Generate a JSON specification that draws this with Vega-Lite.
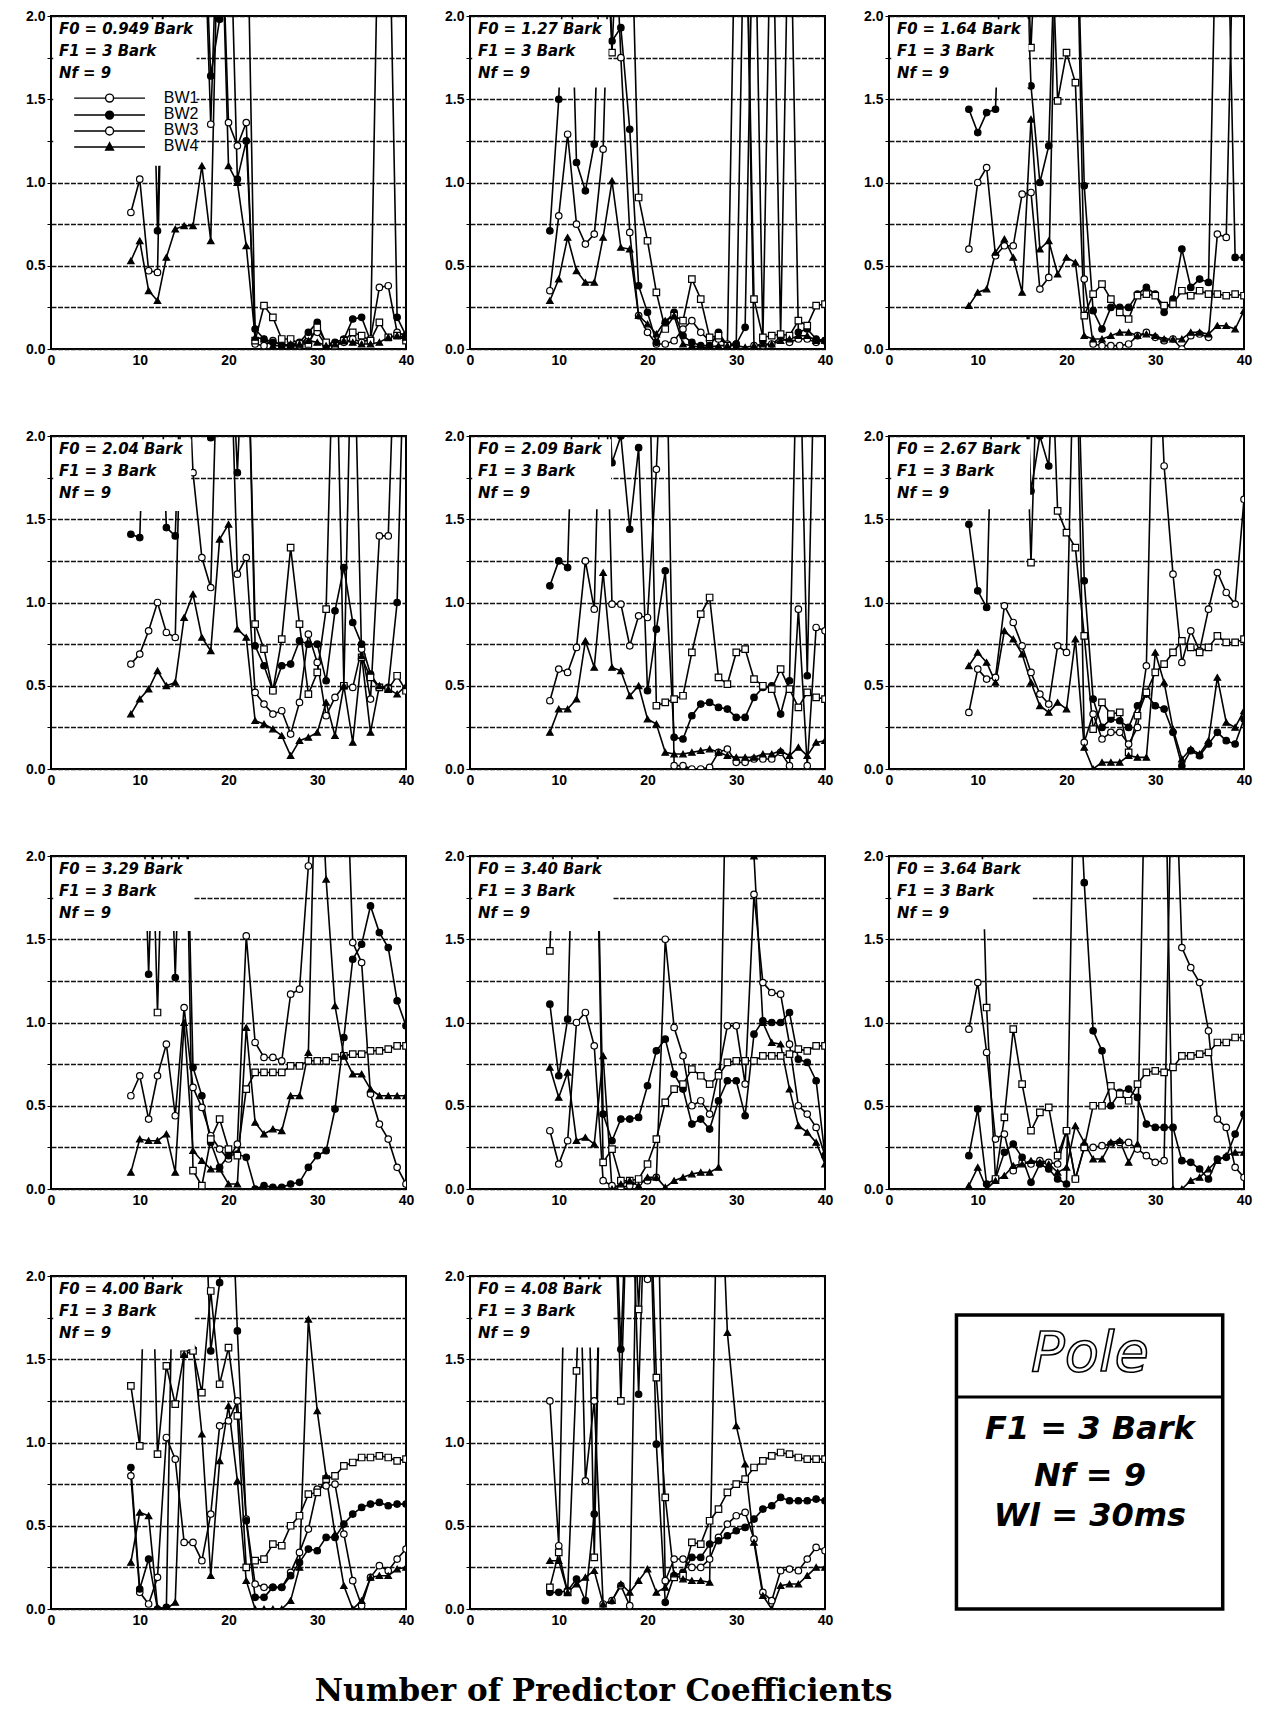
{
"$schema":"https://vega.github.io/schema/vega-lite/v6.json",
"background":"white",
"padding":{"left":24,"top":8,"right":4,"bottom":4},
"title":{"text":"Number of Predictor Coefficients","orient":"bottom","anchor":"middle","font":"DejaVu Serif","fontSize":31,"fontWeight":"bold","color":"black","offset":49,"dx":-35},
"columns":3,
"spacing":{"row":60,"column":28},
"data":{"values":[
{"p":1,"s":"BW1","x":9,"y":0.82},{"p":1,"s":"BW1","x":10,"y":1.02},{"p":1,"s":"BW1","x":11,"y":0.47},{"p":1,"s":"BW1","x":12,"y":0.46},{"p":1,"s":"BW1","x":13,"y":3},{"p":1,"s":"BW1","x":17,"y":3},{"p":1,"s":"BW1","x":18,"y":1.35},{"p":1,"s":"BW1","x":19,"y":3},{"p":1,"s":"BW1","x":20,"y":1.36},{"p":1,"s":"BW1","x":21,"y":1.22},{"p":1,"s":"BW1","x":22,"y":1.36},{"p":1,"s":"BW1","x":23,"y":0.03},{"p":1,"s":"BW1","x":24,"y":0.02},{"p":1,"s":"BW1","x":25,"y":0.05},{"p":1,"s":"BW1","x":26,"y":0.02},{"p":1,"s":"BW1","x":27,"y":0.02},{"p":1,"s":"BW1","x":28,"y":0.02},{"p":1,"s":"BW1","x":29,"y":0.08},{"p":1,"s":"BW1","x":30,"y":0.1},{"p":1,"s":"BW1","x":31,"y":0.02},{"p":1,"s":"BW1","x":32,"y":0.02},{"p":1,"s":"BW1","x":33,"y":0.04},{"p":1,"s":"BW1","x":34,"y":0.06},{"p":1,"s":"BW1","x":35,"y":0.04},{"p":1,"s":"BW1","x":36,"y":0.06},{"p":1,"s":"BW1","x":37,"y":0.37},{"p":1,"s":"BW1","x":38,"y":0.38},{"p":1,"s":"BW1","x":39,"y":0.1},{"p":1,"s":"BW1","x":40,"y":0.08},
{"p":1,"s":"BW2","x":11,"y":3},{"p":1,"s":"BW2","x":12,"y":0.71},{"p":1,"s":"BW2","x":13,"y":3},{"p":1,"s":"BW2","x":17,"y":3},{"p":1,"s":"BW2","x":18,"y":1.64},{"p":1,"s":"BW2","x":19,"y":1.98},{"p":1,"s":"BW2","x":20,"y":3},{"p":1,"s":"BW2","x":21,"y":1.02},{"p":1,"s":"BW2","x":22,"y":1.25},{"p":1,"s":"BW2","x":23,"y":0.12},{"p":1,"s":"BW2","x":24,"y":0.06},{"p":1,"s":"BW2","x":25,"y":0.04},{"p":1,"s":"BW2","x":26,"y":0.03},{"p":1,"s":"BW2","x":27,"y":0.02},{"p":1,"s":"BW2","x":28,"y":0.04},{"p":1,"s":"BW2","x":29,"y":0.1},{"p":1,"s":"BW2","x":30,"y":0.16},{"p":1,"s":"BW2","x":31,"y":0.03},{"p":1,"s":"BW2","x":32,"y":0.04},{"p":1,"s":"BW2","x":33,"y":0.06},{"p":1,"s":"BW2","x":34,"y":0.18},{"p":1,"s":"BW2","x":35,"y":0.19},{"p":1,"s":"BW2","x":36,"y":0.05},{"p":1,"s":"BW2","x":37,"y":3},{"p":1,"s":"BW2","x":38,"y":3},{"p":1,"s":"BW2","x":39,"y":0.19},{"p":1,"s":"BW2","x":40,"y":0.08},
{"p":1,"s":"BW3","x":22,"y":3},{"p":1,"s":"BW3","x":23,"y":0.05},{"p":1,"s":"BW3","x":24,"y":0.26},{"p":1,"s":"BW3","x":25,"y":0.19},{"p":1,"s":"BW3","x":26,"y":0.06},{"p":1,"s":"BW3","x":27,"y":0.06},{"p":1,"s":"BW3","x":28,"y":0.03},{"p":1,"s":"BW3","x":29,"y":0.03},{"p":1,"s":"BW3","x":30,"y":0.13},{"p":1,"s":"BW3","x":31,"y":0.04},{"p":1,"s":"BW3","x":32,"y":0.02},{"p":1,"s":"BW3","x":33,"y":0.05},{"p":1,"s":"BW3","x":34,"y":0.1},{"p":1,"s":"BW3","x":35,"y":0.08},{"p":1,"s":"BW3","x":36,"y":0.05},{"p":1,"s":"BW3","x":37,"y":0.16},{"p":1,"s":"BW3","x":38,"y":0.07},{"p":1,"s":"BW3","x":39,"y":0.08},{"p":1,"s":"BW3","x":40,"y":0.05},
{"p":1,"s":"BW4","x":9,"y":0.53},{"p":1,"s":"BW4","x":10,"y":0.65},{"p":1,"s":"BW4","x":11,"y":0.35},{"p":1,"s":"BW4","x":12,"y":0.29},{"p":1,"s":"BW4","x":13,"y":0.55},{"p":1,"s":"BW4","x":14,"y":0.72},{"p":1,"s":"BW4","x":15,"y":0.74},{"p":1,"s":"BW4","x":16,"y":0.74},{"p":1,"s":"BW4","x":17,"y":1.1},{"p":1,"s":"BW4","x":18,"y":0.65},{"p":1,"s":"BW4","x":19,"y":3},{"p":1,"s":"BW4","x":20,"y":1.1},{"p":1,"s":"BW4","x":21,"y":1.0},{"p":1,"s":"BW4","x":22,"y":0.62},{"p":1,"s":"BW4","x":23,"y":0.07},{"p":1,"s":"BW4","x":24,"y":0.06},{"p":1,"s":"BW4","x":25,"y":0.02},{"p":1,"s":"BW4","x":26,"y":0.02},{"p":1,"s":"BW4","x":27,"y":0.03},{"p":1,"s":"BW4","x":28,"y":0.03},{"p":1,"s":"BW4","x":29,"y":0.05},{"p":1,"s":"BW4","x":30,"y":0.04},{"p":1,"s":"BW4","x":31,"y":0.02},{"p":1,"s":"BW4","x":32,"y":0.03},{"p":1,"s":"BW4","x":33,"y":0.05},{"p":1,"s":"BW4","x":34,"y":0.04},{"p":1,"s":"BW4","x":35,"y":0.03},{"p":1,"s":"BW4","x":36,"y":0.03},{"p":1,"s":"BW4","x":37,"y":0.04},{"p":1,"s":"BW4","x":38,"y":0.07},{"p":1,"s":"BW4","x":39,"y":0.08},{"p":1,"s":"BW4","x":40,"y":0.07},

{"p":2,"s":"BW1","x":9,"y":0.35},{"p":2,"s":"BW1","x":10,"y":0.8},{"p":2,"s":"BW1","x":11,"y":1.29},{"p":2,"s":"BW1","x":12,"y":0.75},{"p":2,"s":"BW1","x":13,"y":0.63},{"p":2,"s":"BW1","x":14,"y":0.69},{"p":2,"s":"BW1","x":15,"y":1.2},{"p":2,"s":"BW1","x":16,"y":3},{"p":2,"s":"BW1","x":17,"y":1.75},{"p":2,"s":"BW1","x":18,"y":0.7},{"p":2,"s":"BW1","x":19,"y":0.2},{"p":2,"s":"BW1","x":20,"y":0.1},{"p":2,"s":"BW1","x":21,"y":0.03},{"p":2,"s":"BW1","x":22,"y":0.03},{"p":2,"s":"BW1","x":23,"y":0.05},{"p":2,"s":"BW1","x":24,"y":0.12},{"p":2,"s":"BW1","x":25,"y":0.17},{"p":2,"s":"BW1","x":26,"y":0.1},{"p":2,"s":"BW1","x":27,"y":0.05},{"p":2,"s":"BW1","x":28,"y":0.06},{"p":2,"s":"BW1","x":29,"y":0.03},{"p":2,"s":"BW1","x":30,"y":0.03},{"p":2,"s":"BW1","x":31,"y":3},{"p":2,"s":"BW1","x":32,"y":0.02},{"p":2,"s":"BW1","x":33,"y":0.02},{"p":2,"s":"BW1","x":34,"y":0.03},{"p":2,"s":"BW1","x":35,"y":0.07},{"p":2,"s":"BW1","x":36,"y":0.04},{"p":2,"s":"BW1","x":37,"y":0.06},{"p":2,"s":"BW1","x":38,"y":0.06},{"p":2,"s":"BW1","x":39,"y":0.04},{"p":2,"s":"BW1","x":40,"y":0.05},
{"p":2,"s":"BW2","x":9,"y":0.71},{"p":2,"s":"BW2","x":10,"y":1.5},{"p":2,"s":"BW2","x":11,"y":3},{"p":2,"s":"BW2","x":12,"y":1.12},{"p":2,"s":"BW2","x":13,"y":0.95},{"p":2,"s":"BW2","x":14,"y":1.23},{"p":2,"s":"BW2","x":15,"y":3},{"p":2,"s":"BW2","x":16,"y":1.85},{"p":2,"s":"BW2","x":17,"y":1.93},{"p":2,"s":"BW2","x":18,"y":1.32},{"p":2,"s":"BW2","x":19,"y":0.38},{"p":2,"s":"BW2","x":20,"y":0.22},{"p":2,"s":"BW2","x":21,"y":0.04},{"p":2,"s":"BW2","x":22,"y":0.16},{"p":2,"s":"BW2","x":23,"y":0.22},{"p":2,"s":"BW2","x":24,"y":0.08},{"p":2,"s":"BW2","x":25,"y":0.04},{"p":2,"s":"BW2","x":26,"y":0.02},{"p":2,"s":"BW2","x":27,"y":0.02},{"p":2,"s":"BW2","x":28,"y":0.1},{"p":2,"s":"BW2","x":29,"y":0.02},{"p":2,"s":"BW2","x":30,"y":0.03},{"p":2,"s":"BW2","x":31,"y":0.13},{"p":2,"s":"BW2","x":32,"y":3},{"p":2,"s":"BW2","x":33,"y":0.05},{"p":2,"s":"BW2","x":34,"y":3},{"p":2,"s":"BW2","x":35,"y":0.08},{"p":2,"s":"BW2","x":36,"y":3},{"p":2,"s":"BW2","x":37,"y":0.1},{"p":2,"s":"BW2","x":38,"y":0.12},{"p":2,"s":"BW2","x":39,"y":0.06},{"p":2,"s":"BW2","x":40,"y":0.05},
{"p":2,"s":"BW3","x":15,"y":3},{"p":2,"s":"BW3","x":16,"y":1.78},{"p":2,"s":"BW3","x":17,"y":3},{"p":2,"s":"BW3","x":18,"y":3},{"p":2,"s":"BW3","x":19,"y":0.91},{"p":2,"s":"BW3","x":20,"y":0.65},{"p":2,"s":"BW3","x":21,"y":0.34},{"p":2,"s":"BW3","x":22,"y":0.12},{"p":2,"s":"BW3","x":23,"y":0.2},{"p":2,"s":"BW3","x":24,"y":0.17},{"p":2,"s":"BW3","x":25,"y":0.42},{"p":2,"s":"BW3","x":26,"y":0.3},{"p":2,"s":"BW3","x":27,"y":0.07},{"p":2,"s":"BW3","x":28,"y":0.08},{"p":2,"s":"BW3","x":29,"y":0.02},{"p":2,"s":"BW3","x":30,"y":3},{"p":2,"s":"BW3","x":31,"y":3},{"p":2,"s":"BW3","x":32,"y":0.3},{"p":2,"s":"BW3","x":33,"y":0.07},{"p":2,"s":"BW3","x":34,"y":0.08},{"p":2,"s":"BW3","x":35,"y":0.09},{"p":2,"s":"BW3","x":36,"y":0.08},{"p":2,"s":"BW3","x":37,"y":0.17},{"p":2,"s":"BW3","x":38,"y":0.14},{"p":2,"s":"BW3","x":39,"y":0.26},{"p":2,"s":"BW3","x":40,"y":0.27},
{"p":2,"s":"BW4","x":9,"y":0.29},{"p":2,"s":"BW4","x":10,"y":0.42},{"p":2,"s":"BW4","x":11,"y":0.67},{"p":2,"s":"BW4","x":12,"y":0.47},{"p":2,"s":"BW4","x":13,"y":0.4},{"p":2,"s":"BW4","x":14,"y":0.4},{"p":2,"s":"BW4","x":15,"y":0.67},{"p":2,"s":"BW4","x":16,"y":1.01},{"p":2,"s":"BW4","x":17,"y":0.61},{"p":2,"s":"BW4","x":18,"y":0.6},{"p":2,"s":"BW4","x":19,"y":0.2},{"p":2,"s":"BW4","x":20,"y":0.15},{"p":2,"s":"BW4","x":21,"y":0.09},{"p":2,"s":"BW4","x":22,"y":0.17},{"p":2,"s":"BW4","x":23,"y":0.2},{"p":2,"s":"BW4","x":24,"y":0.03},{"p":2,"s":"BW4","x":25,"y":0.02},{"p":2,"s":"BW4","x":26,"y":0.01},{"p":2,"s":"BW4","x":27,"y":0.01},{"p":2,"s":"BW4","x":28,"y":0.02},{"p":2,"s":"BW4","x":29,"y":0.02},{"p":2,"s":"BW4","x":30,"y":0.02},{"p":2,"s":"BW4","x":31,"y":0.01},{"p":2,"s":"BW4","x":32,"y":0.02},{"p":2,"s":"BW4","x":33,"y":0.03},{"p":2,"s":"BW4","x":34,"y":0.03},{"p":2,"s":"BW4","x":35,"y":0.05},{"p":2,"s":"BW4","x":36,"y":0.06},{"p":2,"s":"BW4","x":37,"y":0.08},{"p":2,"s":"BW4","x":38,"y":0.08},{"p":2,"s":"BW4","x":39,"y":0.05},{"p":2,"s":"BW4","x":40,"y":0.05},

{"p":3,"s":"BW1","x":9,"y":0.6},{"p":3,"s":"BW1","x":10,"y":1.0},{"p":3,"s":"BW1","x":11,"y":1.09},{"p":3,"s":"BW1","x":12,"y":0.56},{"p":3,"s":"BW1","x":13,"y":0.62},{"p":3,"s":"BW1","x":14,"y":0.62},{"p":3,"s":"BW1","x":15,"y":0.93},{"p":3,"s":"BW1","x":16,"y":0.94},{"p":3,"s":"BW1","x":17,"y":0.36},{"p":3,"s":"BW1","x":18,"y":0.43},{"p":3,"s":"BW1","x":19,"y":3},{"p":3,"s":"BW1","x":21,"y":3},{"p":3,"s":"BW1","x":22,"y":0.42},{"p":3,"s":"BW1","x":23,"y":0.03},{"p":3,"s":"BW1","x":24,"y":0.02},{"p":3,"s":"BW1","x":25,"y":0.02},{"p":3,"s":"BW1","x":26,"y":0.02},{"p":3,"s":"BW1","x":27,"y":0.03},{"p":3,"s":"BW1","x":28,"y":0.08},{"p":3,"s":"BW1","x":29,"y":0.1},{"p":3,"s":"BW1","x":30,"y":0.07},{"p":3,"s":"BW1","x":31,"y":0.05},{"p":3,"s":"BW1","x":32,"y":0.06},{"p":3,"s":"BW1","x":33,"y":0.0},{"p":3,"s":"BW1","x":34,"y":0.08},{"p":3,"s":"BW1","x":35,"y":0.09},{"p":3,"s":"BW1","x":36,"y":0.07},{"p":3,"s":"BW1","x":37,"y":0.69},{"p":3,"s":"BW1","x":38,"y":0.67},{"p":3,"s":"BW1","x":39,"y":3},
{"p":3,"s":"BW2","x":9,"y":1.44},{"p":3,"s":"BW2","x":10,"y":1.3},{"p":3,"s":"BW2","x":11,"y":1.42},{"p":3,"s":"BW2","x":12,"y":1.44},{"p":3,"s":"BW2","x":13,"y":3},{"p":3,"s":"BW2","x":15,"y":3},{"p":3,"s":"BW2","x":16,"y":1.58},{"p":3,"s":"BW2","x":17,"y":1.0},{"p":3,"s":"BW2","x":18,"y":1.22},{"p":3,"s":"BW2","x":19,"y":3},{"p":3,"s":"BW2","x":21,"y":3},{"p":3,"s":"BW2","x":22,"y":0.98},{"p":3,"s":"BW2","x":23,"y":0.23},{"p":3,"s":"BW2","x":24,"y":0.12},{"p":3,"s":"BW2","x":25,"y":0.25},{"p":3,"s":"BW2","x":26,"y":0.25},{"p":3,"s":"BW2","x":27,"y":0.25},{"p":3,"s":"BW2","x":28,"y":0.33},{"p":3,"s":"BW2","x":29,"y":0.37},{"p":3,"s":"BW2","x":30,"y":0.33},{"p":3,"s":"BW2","x":31,"y":0.22},{"p":3,"s":"BW2","x":32,"y":0.3},{"p":3,"s":"BW2","x":33,"y":0.6},{"p":3,"s":"BW2","x":34,"y":0.37},{"p":3,"s":"BW2","x":35,"y":0.42},{"p":3,"s":"BW2","x":36,"y":0.4},{"p":3,"s":"BW2","x":37,"y":3},{"p":3,"s":"BW2","x":38,"y":3},{"p":3,"s":"BW2","x":39,"y":0.55},{"p":3,"s":"BW2","x":40,"y":0.55},
{"p":3,"s":"BW3","x":15,"y":3},{"p":3,"s":"BW3","x":16,"y":1.81},{"p":3,"s":"BW3","x":17,"y":3},{"p":3,"s":"BW3","x":18,"y":3},{"p":3,"s":"BW3","x":19,"y":1.49},{"p":3,"s":"BW3","x":20,"y":1.78},{"p":3,"s":"BW3","x":21,"y":1.6},{"p":3,"s":"BW3","x":22,"y":0.2},{"p":3,"s":"BW3","x":23,"y":0.33},{"p":3,"s":"BW3","x":24,"y":0.39},{"p":3,"s":"BW3","x":25,"y":0.3},{"p":3,"s":"BW3","x":26,"y":0.22},{"p":3,"s":"BW3","x":27,"y":0.18},{"p":3,"s":"BW3","x":28,"y":0.32},{"p":3,"s":"BW3","x":29,"y":0.33},{"p":3,"s":"BW3","x":30,"y":0.32},{"p":3,"s":"BW3","x":31,"y":0.26},{"p":3,"s":"BW3","x":32,"y":0.27},{"p":3,"s":"BW3","x":33,"y":0.35},{"p":3,"s":"BW3","x":34,"y":0.32},{"p":3,"s":"BW3","x":35,"y":0.35},{"p":3,"s":"BW3","x":36,"y":0.33},{"p":3,"s":"BW3","x":37,"y":0.33},{"p":3,"s":"BW3","x":38,"y":0.32},{"p":3,"s":"BW3","x":39,"y":0.33},{"p":3,"s":"BW3","x":40,"y":0.32},
{"p":3,"s":"BW4","x":9,"y":0.26},{"p":3,"s":"BW4","x":10,"y":0.34},{"p":3,"s":"BW4","x":11,"y":0.36},{"p":3,"s":"BW4","x":12,"y":0.58},{"p":3,"s":"BW4","x":13,"y":0.66},{"p":3,"s":"BW4","x":14,"y":0.55},{"p":3,"s":"BW4","x":15,"y":0.34},{"p":3,"s":"BW4","x":16,"y":1.38},{"p":3,"s":"BW4","x":17,"y":0.6},{"p":3,"s":"BW4","x":18,"y":0.65},{"p":3,"s":"BW4","x":19,"y":0.45},{"p":3,"s":"BW4","x":20,"y":0.55},{"p":3,"s":"BW4","x":21,"y":0.52},{"p":3,"s":"BW4","x":22,"y":0.08},{"p":3,"s":"BW4","x":23,"y":0.06},{"p":3,"s":"BW4","x":24,"y":0.06},{"p":3,"s":"BW4","x":25,"y":0.08},{"p":3,"s":"BW4","x":26,"y":0.1},{"p":3,"s":"BW4","x":27,"y":0.1},{"p":3,"s":"BW4","x":28,"y":0.08},{"p":3,"s":"BW4","x":29,"y":0.09},{"p":3,"s":"BW4","x":30,"y":0.08},{"p":3,"s":"BW4","x":31,"y":0.06},{"p":3,"s":"BW4","x":32,"y":0.06},{"p":3,"s":"BW4","x":33,"y":0.06},{"p":3,"s":"BW4","x":34,"y":0.1},{"p":3,"s":"BW4","x":35,"y":0.1},{"p":3,"s":"BW4","x":36,"y":0.09},{"p":3,"s":"BW4","x":37,"y":0.14},{"p":3,"s":"BW4","x":38,"y":0.14},{"p":3,"s":"BW4","x":39,"y":0.12},{"p":3,"s":"BW4","x":40,"y":0.23},

{"p":4,"s":"BW1","x":9,"y":0.63},{"p":4,"s":"BW1","x":10,"y":0.69},{"p":4,"s":"BW1","x":11,"y":0.83},{"p":4,"s":"BW1","x":12,"y":1.0},{"p":4,"s":"BW1","x":13,"y":0.82},{"p":4,"s":"BW1","x":14,"y":0.79},{"p":4,"s":"BW1","x":15,"y":3},{"p":4,"s":"BW1","x":16,"y":1.78},{"p":4,"s":"BW1","x":17,"y":1.27},{"p":4,"s":"BW1","x":18,"y":1.09},{"p":4,"s":"BW1","x":19,"y":3},{"p":4,"s":"BW1","x":20,"y":3},{"p":4,"s":"BW1","x":21,"y":1.17},{"p":4,"s":"BW1","x":22,"y":1.27},{"p":4,"s":"BW1","x":23,"y":0.46},{"p":4,"s":"BW1","x":24,"y":0.39},{"p":4,"s":"BW1","x":25,"y":0.33},{"p":4,"s":"BW1","x":26,"y":0.35},{"p":4,"s":"BW1","x":27,"y":0.21},{"p":4,"s":"BW1","x":28,"y":0.4},{"p":4,"s":"BW1","x":29,"y":0.81},{"p":4,"s":"BW1","x":30,"y":0.64},{"p":4,"s":"BW1","x":31,"y":0.32},{"p":4,"s":"BW1","x":32,"y":0.43},{"p":4,"s":"BW1","x":33,"y":0.5},{"p":4,"s":"BW1","x":34,"y":0.49},{"p":4,"s":"BW1","x":35,"y":0.72},{"p":4,"s":"BW1","x":36,"y":0.42},{"p":4,"s":"BW1","x":37,"y":1.4},{"p":4,"s":"BW1","x":38,"y":1.4},{"p":4,"s":"BW1","x":39,"y":3},
{"p":4,"s":"BW2","x":9,"y":1.41},{"p":4,"s":"BW2","x":10,"y":1.39},{"p":4,"s":"BW2","x":11,"y":3},{"p":4,"s":"BW2","x":12,"y":3},{"p":4,"s":"BW2","x":13,"y":1.45},{"p":4,"s":"BW2","x":14,"y":1.4},{"p":4,"s":"BW2","x":15,"y":3},{"p":4,"s":"BW2","x":17,"y":3},{"p":4,"s":"BW2","x":18,"y":1.99},{"p":4,"s":"BW2","x":19,"y":3},{"p":4,"s":"BW2","x":20,"y":3},{"p":4,"s":"BW2","x":21,"y":1.78},{"p":4,"s":"BW2","x":22,"y":3},{"p":4,"s":"BW2","x":23,"y":0.74},{"p":4,"s":"BW2","x":24,"y":0.62},{"p":4,"s":"BW2","x":25,"y":0.47},{"p":4,"s":"BW2","x":26,"y":0.62},{"p":4,"s":"BW2","x":27,"y":0.63},{"p":4,"s":"BW2","x":28,"y":0.77},{"p":4,"s":"BW2","x":29,"y":0.75},{"p":4,"s":"BW2","x":30,"y":0.75},{"p":4,"s":"BW2","x":31,"y":0.53},{"p":4,"s":"BW2","x":32,"y":0.95},{"p":4,"s":"BW2","x":33,"y":1.21},{"p":4,"s":"BW2","x":34,"y":0.88},{"p":4,"s":"BW2","x":35,"y":0.75},{"p":4,"s":"BW2","x":36,"y":0.57},{"p":4,"s":"BW2","x":37,"y":0.49},{"p":4,"s":"BW2","x":38,"y":0.49},{"p":4,"s":"BW2","x":39,"y":1.0},{"p":4,"s":"BW2","x":40,"y":3},
{"p":4,"s":"BW3","x":22,"y":3},{"p":4,"s":"BW3","x":23,"y":0.87},{"p":4,"s":"BW3","x":24,"y":0.72},{"p":4,"s":"BW3","x":25,"y":0.47},{"p":4,"s":"BW3","x":26,"y":0.78},{"p":4,"s":"BW3","x":27,"y":1.33},{"p":4,"s":"BW3","x":28,"y":0.87},{"p":4,"s":"BW3","x":29,"y":0.45},{"p":4,"s":"BW3","x":30,"y":0.58},{"p":4,"s":"BW3","x":31,"y":0.96},{"p":4,"s":"BW3","x":32,"y":3},{"p":4,"s":"BW3","x":33,"y":0.5},{"p":4,"s":"BW3","x":34,"y":3},{"p":4,"s":"BW3","x":35,"y":0.67},{"p":4,"s":"BW3","x":36,"y":0.55},{"p":4,"s":"BW3","x":37,"y":0.49},{"p":4,"s":"BW3","x":38,"y":0.48},{"p":4,"s":"BW3","x":39,"y":0.56},{"p":4,"s":"BW3","x":40,"y":0.47},
{"p":4,"s":"BW4","x":9,"y":0.33},{"p":4,"s":"BW4","x":10,"y":0.42},{"p":4,"s":"BW4","x":11,"y":0.48},{"p":4,"s":"BW4","x":12,"y":0.59},{"p":4,"s":"BW4","x":13,"y":0.5},{"p":4,"s":"BW4","x":14,"y":0.52},{"p":4,"s":"BW4","x":15,"y":0.91},{"p":4,"s":"BW4","x":16,"y":1.05},{"p":4,"s":"BW4","x":17,"y":0.79},{"p":4,"s":"BW4","x":18,"y":0.71},{"p":4,"s":"BW4","x":19,"y":1.38},{"p":4,"s":"BW4","x":20,"y":1.47},{"p":4,"s":"BW4","x":21,"y":0.84},{"p":4,"s":"BW4","x":22,"y":0.79},{"p":4,"s":"BW4","x":23,"y":0.29},{"p":4,"s":"BW4","x":24,"y":0.27},{"p":4,"s":"BW4","x":25,"y":0.24},{"p":4,"s":"BW4","x":26,"y":0.2},{"p":4,"s":"BW4","x":27,"y":0.08},{"p":4,"s":"BW4","x":28,"y":0.17},{"p":4,"s":"BW4","x":29,"y":0.19},{"p":4,"s":"BW4","x":30,"y":0.22},{"p":4,"s":"BW4","x":31,"y":0.4},{"p":4,"s":"BW4","x":32,"y":0.2},{"p":4,"s":"BW4","x":33,"y":0.5},{"p":4,"s":"BW4","x":34,"y":0.16},{"p":4,"s":"BW4","x":35,"y":0.68},{"p":4,"s":"BW4","x":36,"y":0.22},{"p":4,"s":"BW4","x":37,"y":0.5},{"p":4,"s":"BW4","x":38,"y":0.48},{"p":4,"s":"BW4","x":39,"y":0.45},{"p":4,"s":"BW4","x":40,"y":0.5},

{"p":5,"s":"BW1","x":9,"y":0.41},{"p":5,"s":"BW1","x":10,"y":0.6},{"p":5,"s":"BW1","x":11,"y":0.58},{"p":5,"s":"BW1","x":12,"y":0.73},{"p":5,"s":"BW1","x":13,"y":1.25},{"p":5,"s":"BW1","x":14,"y":0.96},{"p":5,"s":"BW1","x":15,"y":3},{"p":5,"s":"BW1","x":16,"y":0.99},{"p":5,"s":"BW1","x":17,"y":0.99},{"p":5,"s":"BW1","x":18,"y":0.74},{"p":5,"s":"BW1","x":19,"y":0.92},{"p":5,"s":"BW1","x":20,"y":0.91},{"p":5,"s":"BW1","x":21,"y":1.8},{"p":5,"s":"BW1","x":22,"y":3},{"p":5,"s":"BW1","x":23,"y":0.02},{"p":5,"s":"BW1","x":24,"y":0.02},{"p":5,"s":"BW1","x":25,"y":0.0},{"p":5,"s":"BW1","x":26,"y":0.0},{"p":5,"s":"BW1","x":27,"y":0.01},{"p":5,"s":"BW1","x":28,"y":0.1},{"p":5,"s":"BW1","x":29,"y":0.12},{"p":5,"s":"BW1","x":30,"y":0.04},{"p":5,"s":"BW1","x":31,"y":0.04},{"p":5,"s":"BW1","x":32,"y":0.06},{"p":5,"s":"BW1","x":33,"y":0.06},{"p":5,"s":"BW1","x":34,"y":0.06},{"p":5,"s":"BW1","x":35,"y":0.1},{"p":5,"s":"BW1","x":36,"y":0.02},{"p":5,"s":"BW1","x":37,"y":0.96},{"p":5,"s":"BW1","x":38,"y":0.02},{"p":5,"s":"BW1","x":39,"y":0.85},{"p":5,"s":"BW1","x":40,"y":0.83},
{"p":5,"s":"BW2","x":9,"y":1.1},{"p":5,"s":"BW2","x":10,"y":1.25},{"p":5,"s":"BW2","x":11,"y":1.21},{"p":5,"s":"BW2","x":12,"y":3},{"p":5,"s":"BW2","x":15,"y":3},{"p":5,"s":"BW2","x":16,"y":1.84},{"p":5,"s":"BW2","x":17,"y":2.0},{"p":5,"s":"BW2","x":18,"y":1.44},{"p":5,"s":"BW2","x":19,"y":1.93},{"p":5,"s":"BW2","x":20,"y":0.47},{"p":5,"s":"BW2","x":21,"y":0.84},{"p":5,"s":"BW2","x":22,"y":1.19},{"p":5,"s":"BW2","x":23,"y":0.19},{"p":5,"s":"BW2","x":24,"y":0.18},{"p":5,"s":"BW2","x":25,"y":0.32},{"p":5,"s":"BW2","x":26,"y":0.39},{"p":5,"s":"BW2","x":27,"y":0.4},{"p":5,"s":"BW2","x":28,"y":0.37},{"p":5,"s":"BW2","x":29,"y":0.36},{"p":5,"s":"BW2","x":30,"y":0.31},{"p":5,"s":"BW2","x":31,"y":0.31},{"p":5,"s":"BW2","x":32,"y":0.43},{"p":5,"s":"BW2","x":33,"y":0.49},{"p":5,"s":"BW2","x":34,"y":0.5},{"p":5,"s":"BW2","x":35,"y":0.33},{"p":5,"s":"BW2","x":36,"y":0.53},{"p":5,"s":"BW2","x":37,"y":3},{"p":5,"s":"BW2","x":38,"y":0.56},{"p":5,"s":"BW2","x":39,"y":3},
{"p":5,"s":"BW3","x":20,"y":3},{"p":5,"s":"BW3","x":21,"y":0.38},{"p":5,"s":"BW3","x":22,"y":0.4},{"p":5,"s":"BW3","x":23,"y":0.42},{"p":5,"s":"BW3","x":24,"y":0.44},{"p":5,"s":"BW3","x":25,"y":0.7},{"p":5,"s":"BW3","x":26,"y":0.93},{"p":5,"s":"BW3","x":27,"y":1.03},{"p":5,"s":"BW3","x":28,"y":0.55},{"p":5,"s":"BW3","x":29,"y":0.51},{"p":5,"s":"BW3","x":30,"y":0.7},{"p":5,"s":"BW3","x":31,"y":0.72},{"p":5,"s":"BW3","x":32,"y":0.54},{"p":5,"s":"BW3","x":33,"y":0.5},{"p":5,"s":"BW3","x":34,"y":0.48},{"p":5,"s":"BW3","x":35,"y":0.6},{"p":5,"s":"BW3","x":36,"y":0.48},{"p":5,"s":"BW3","x":37,"y":0.37},{"p":5,"s":"BW3","x":38,"y":0.46},{"p":5,"s":"BW3","x":39,"y":0.43},{"p":5,"s":"BW3","x":40,"y":0.42},
{"p":5,"s":"BW4","x":9,"y":0.22},{"p":5,"s":"BW4","x":10,"y":0.36},{"p":5,"s":"BW4","x":11,"y":0.36},{"p":5,"s":"BW4","x":12,"y":0.42},{"p":5,"s":"BW4","x":13,"y":0.77},{"p":5,"s":"BW4","x":14,"y":0.61},{"p":5,"s":"BW4","x":15,"y":1.18},{"p":5,"s":"BW4","x":16,"y":0.61},{"p":5,"s":"BW4","x":17,"y":0.59},{"p":5,"s":"BW4","x":18,"y":0.44},{"p":5,"s":"BW4","x":19,"y":0.5},{"p":5,"s":"BW4","x":20,"y":0.3},{"p":5,"s":"BW4","x":21,"y":0.27},{"p":5,"s":"BW4","x":22,"y":0.1},{"p":5,"s":"BW4","x":23,"y":0.09},{"p":5,"s":"BW4","x":24,"y":0.09},{"p":5,"s":"BW4","x":25,"y":0.1},{"p":5,"s":"BW4","x":26,"y":0.11},{"p":5,"s":"BW4","x":27,"y":0.12},{"p":5,"s":"BW4","x":28,"y":0.1},{"p":5,"s":"BW4","x":29,"y":0.08},{"p":5,"s":"BW4","x":30,"y":0.07},{"p":5,"s":"BW4","x":31,"y":0.07},{"p":5,"s":"BW4","x":32,"y":0.07},{"p":5,"s":"BW4","x":33,"y":0.09},{"p":5,"s":"BW4","x":34,"y":0.09},{"p":5,"s":"BW4","x":35,"y":0.11},{"p":5,"s":"BW4","x":36,"y":0.08},{"p":5,"s":"BW4","x":37,"y":0.13},{"p":5,"s":"BW4","x":38,"y":0.08},{"p":5,"s":"BW4","x":39,"y":0.16},{"p":5,"s":"BW4","x":40,"y":0.17},

{"p":6,"s":"BW1","x":9,"y":0.34},{"p":6,"s":"BW1","x":10,"y":0.6},{"p":6,"s":"BW1","x":11,"y":0.54},{"p":6,"s":"BW1","x":12,"y":0.55},{"p":6,"s":"BW1","x":13,"y":0.98},{"p":6,"s":"BW1","x":14,"y":0.88},{"p":6,"s":"BW1","x":15,"y":0.74},{"p":6,"s":"BW1","x":16,"y":0.58},{"p":6,"s":"BW1","x":17,"y":0.45},{"p":6,"s":"BW1","x":18,"y":0.39},{"p":6,"s":"BW1","x":19,"y":0.74},{"p":6,"s":"BW1","x":20,"y":0.7},{"p":6,"s":"BW1","x":21,"y":3},{"p":6,"s":"BW1","x":22,"y":0.16},{"p":6,"s":"BW1","x":23,"y":0.33},{"p":6,"s":"BW1","x":24,"y":0.18},{"p":6,"s":"BW1","x":25,"y":0.22},{"p":6,"s":"BW1","x":26,"y":0.22},{"p":6,"s":"BW1","x":27,"y":0.15},{"p":6,"s":"BW1","x":28,"y":0.25},{"p":6,"s":"BW1","x":29,"y":0.62},{"p":6,"s":"BW1","x":30,"y":3},{"p":6,"s":"BW1","x":31,"y":1.82},{"p":6,"s":"BW1","x":32,"y":1.17},{"p":6,"s":"BW1","x":33,"y":0.64},{"p":6,"s":"BW1","x":34,"y":0.83},{"p":6,"s":"BW1","x":35,"y":0.71},{"p":6,"s":"BW1","x":36,"y":0.96},{"p":6,"s":"BW1","x":37,"y":1.18},{"p":6,"s":"BW1","x":38,"y":1.06},{"p":6,"s":"BW1","x":39,"y":0.99},{"p":6,"s":"BW1","x":40,"y":1.62},
{"p":6,"s":"BW2","x":9,"y":1.47},{"p":6,"s":"BW2","x":10,"y":1.07},{"p":6,"s":"BW2","x":11,"y":0.97},{"p":6,"s":"BW2","x":12,"y":3},{"p":6,"s":"BW2","x":15,"y":3},{"p":6,"s":"BW2","x":16,"y":1.67},{"p":6,"s":"BW2","x":17,"y":2.0},{"p":6,"s":"BW2","x":18,"y":1.82},{"p":6,"s":"BW2","x":19,"y":3},{"p":6,"s":"BW2","x":21,"y":3},{"p":6,"s":"BW2","x":22,"y":1.13},{"p":6,"s":"BW2","x":23,"y":0.42},{"p":6,"s":"BW2","x":24,"y":0.25},{"p":6,"s":"BW2","x":25,"y":0.3},{"p":6,"s":"BW2","x":26,"y":0.29},{"p":6,"s":"BW2","x":27,"y":0.25},{"p":6,"s":"BW2","x":28,"y":0.38},{"p":6,"s":"BW2","x":29,"y":0.45},{"p":6,"s":"BW2","x":30,"y":0.38},{"p":6,"s":"BW2","x":31,"y":0.36},{"p":6,"s":"BW2","x":32,"y":0.22},{"p":6,"s":"BW2","x":33,"y":0.02},{"p":6,"s":"BW2","x":34,"y":0.11},{"p":6,"s":"BW2","x":35,"y":0.08},{"p":6,"s":"BW2","x":36,"y":0.15},{"p":6,"s":"BW2","x":37,"y":0.22},{"p":6,"s":"BW2","x":38,"y":0.17},{"p":6,"s":"BW2","x":39,"y":0.15},{"p":6,"s":"BW2","x":40,"y":0.3},
{"p":6,"s":"BW3","x":15,"y":3},{"p":6,"s":"BW3","x":16,"y":1.24},{"p":6,"s":"BW3","x":17,"y":3},{"p":6,"s":"BW3","x":18,"y":3},{"p":6,"s":"BW3","x":19,"y":1.55},{"p":6,"s":"BW3","x":20,"y":1.42},{"p":6,"s":"BW3","x":21,"y":1.33},{"p":6,"s":"BW3","x":22,"y":0.8},{"p":6,"s":"BW3","x":23,"y":0.24},{"p":6,"s":"BW3","x":24,"y":0.4},{"p":6,"s":"BW3","x":25,"y":0.33},{"p":6,"s":"BW3","x":26,"y":0.34},{"p":6,"s":"BW3","x":27,"y":0.1},{"p":6,"s":"BW3","x":28,"y":0.32},{"p":6,"s":"BW3","x":29,"y":0.46},{"p":6,"s":"BW3","x":30,"y":0.58},{"p":6,"s":"BW3","x":31,"y":0.63},{"p":6,"s":"BW3","x":32,"y":0.7},{"p":6,"s":"BW3","x":33,"y":0.77},{"p":6,"s":"BW3","x":34,"y":0.73},{"p":6,"s":"BW3","x":35,"y":0.7},{"p":6,"s":"BW3","x":36,"y":0.73},{"p":6,"s":"BW3","x":37,"y":0.8},{"p":6,"s":"BW3","x":38,"y":0.76},{"p":6,"s":"BW3","x":39,"y":0.76},{"p":6,"s":"BW3","x":40,"y":0.78},
{"p":6,"s":"BW4","x":9,"y":0.62},{"p":6,"s":"BW4","x":10,"y":0.7},{"p":6,"s":"BW4","x":11,"y":0.64},{"p":6,"s":"BW4","x":12,"y":0.52},{"p":6,"s":"BW4","x":13,"y":0.83},{"p":6,"s":"BW4","x":14,"y":0.78},{"p":6,"s":"BW4","x":15,"y":0.69},{"p":6,"s":"BW4","x":16,"y":0.52},{"p":6,"s":"BW4","x":17,"y":0.38},{"p":6,"s":"BW4","x":18,"y":0.34},{"p":6,"s":"BW4","x":19,"y":0.4},{"p":6,"s":"BW4","x":20,"y":0.36},{"p":6,"s":"BW4","x":21,"y":0.78},{"p":6,"s":"BW4","x":22,"y":0.13},{"p":6,"s":"BW4","x":23,"y":0.0},{"p":6,"s":"BW4","x":24,"y":0.04},{"p":6,"s":"BW4","x":25,"y":0.04},{"p":6,"s":"BW4","x":26,"y":0.04},{"p":6,"s":"BW4","x":27,"y":0.08},{"p":6,"s":"BW4","x":28,"y":0.07},{"p":6,"s":"BW4","x":29,"y":0.07},{"p":6,"s":"BW4","x":30,"y":0.7},{"p":6,"s":"BW4","x":31,"y":0.52},{"p":6,"s":"BW4","x":32,"y":0.24},{"p":6,"s":"BW4","x":33,"y":0.06},{"p":6,"s":"BW4","x":34,"y":0.12},{"p":6,"s":"BW4","x":35,"y":0.09},{"p":6,"s":"BW4","x":36,"y":0.17},{"p":6,"s":"BW4","x":37,"y":0.55},{"p":6,"s":"BW4","x":38,"y":0.28},{"p":6,"s":"BW4","x":39,"y":0.25},{"p":6,"s":"BW4","x":40,"y":0.35},

{"p":7,"s":"BW1","x":9,"y":0.56},{"p":7,"s":"BW1","x":10,"y":0.68},{"p":7,"s":"BW1","x":11,"y":0.42},{"p":7,"s":"BW1","x":12,"y":0.68},{"p":7,"s":"BW1","x":13,"y":0.87},{"p":7,"s":"BW1","x":14,"y":0.44},{"p":7,"s":"BW1","x":15,"y":1.09},{"p":7,"s":"BW1","x":16,"y":0.61},{"p":7,"s":"BW1","x":17,"y":0.49},{"p":7,"s":"BW1","x":18,"y":0.32},{"p":7,"s":"BW1","x":19,"y":0.24},{"p":7,"s":"BW1","x":20,"y":0.18},{"p":7,"s":"BW1","x":21,"y":0.27},{"p":7,"s":"BW1","x":22,"y":1.52},{"p":7,"s":"BW1","x":23,"y":0.88},{"p":7,"s":"BW1","x":24,"y":0.79},{"p":7,"s":"BW1","x":25,"y":0.79},{"p":7,"s":"BW1","x":26,"y":0.77},{"p":7,"s":"BW1","x":27,"y":1.17},{"p":7,"s":"BW1","x":28,"y":1.2},{"p":7,"s":"BW1","x":29,"y":1.94},{"p":7,"s":"BW1","x":30,"y":3},{"p":7,"s":"BW1","x":33,"y":3},{"p":7,"s":"BW1","x":34,"y":1.48},{"p":7,"s":"BW1","x":35,"y":1.36},{"p":7,"s":"BW1","x":36,"y":0.57},{"p":7,"s":"BW1","x":37,"y":0.39},{"p":7,"s":"BW1","x":38,"y":0.3},{"p":7,"s":"BW1","x":39,"y":0.13},{"p":7,"s":"BW1","x":40,"y":0.03},
{"p":7,"s":"BW2","x":10,"y":3},{"p":7,"s":"BW2","x":11,"y":1.29},{"p":7,"s":"BW2","x":12,"y":3},{"p":7,"s":"BW2","x":13,"y":3},{"p":7,"s":"BW2","x":14,"y":1.27},{"p":7,"s":"BW2","x":15,"y":3},{"p":7,"s":"BW2","x":16,"y":0.73},{"p":7,"s":"BW2","x":17,"y":0.56},{"p":7,"s":"BW2","x":18,"y":0.28},{"p":7,"s":"BW2","x":19,"y":0.13},{"p":7,"s":"BW2","x":20,"y":0.2},{"p":7,"s":"BW2","x":21,"y":0.21},{"p":7,"s":"BW2","x":22,"y":0.19},{"p":7,"s":"BW2","x":23,"y":0.0},{"p":7,"s":"BW2","x":24,"y":0.02},{"p":7,"s":"BW2","x":25,"y":0.01},{"p":7,"s":"BW2","x":26,"y":0.01},{"p":7,"s":"BW2","x":27,"y":0.03},{"p":7,"s":"BW2","x":28,"y":0.04},{"p":7,"s":"BW2","x":29,"y":0.13},{"p":7,"s":"BW2","x":30,"y":0.2},{"p":7,"s":"BW2","x":31,"y":0.23},{"p":7,"s":"BW2","x":32,"y":0.48},{"p":7,"s":"BW2","x":33,"y":0.91},{"p":7,"s":"BW2","x":34,"y":1.38},{"p":7,"s":"BW2","x":35,"y":1.47},{"p":7,"s":"BW2","x":36,"y":1.7},{"p":7,"s":"BW2","x":37,"y":1.54},{"p":7,"s":"BW2","x":38,"y":1.45},{"p":7,"s":"BW2","x":39,"y":1.13},{"p":7,"s":"BW2","x":40,"y":0.98},
{"p":7,"s":"BW3","x":11,"y":3},{"p":7,"s":"BW3","x":12,"y":1.06},{"p":7,"s":"BW3","x":13,"y":3},{"p":7,"s":"BW3","x":15,"y":3},{"p":7,"s":"BW3","x":16,"y":0.11},{"p":7,"s":"BW3","x":17,"y":0.02},{"p":7,"s":"BW3","x":18,"y":0.3},{"p":7,"s":"BW3","x":19,"y":0.42},{"p":7,"s":"BW3","x":20,"y":0.24},{"p":7,"s":"BW3","x":21,"y":0.2},{"p":7,"s":"BW3","x":22,"y":0.6},{"p":7,"s":"BW3","x":23,"y":0.7},{"p":7,"s":"BW3","x":24,"y":0.7},{"p":7,"s":"BW3","x":25,"y":0.7},{"p":7,"s":"BW3","x":26,"y":0.7},{"p":7,"s":"BW3","x":27,"y":0.74},{"p":7,"s":"BW3","x":28,"y":0.74},{"p":7,"s":"BW3","x":29,"y":0.77},{"p":7,"s":"BW3","x":30,"y":0.77},{"p":7,"s":"BW3","x":31,"y":0.77},{"p":7,"s":"BW3","x":32,"y":0.79},{"p":7,"s":"BW3","x":33,"y":0.8},{"p":7,"s":"BW3","x":34,"y":0.81},{"p":7,"s":"BW3","x":35,"y":0.81},{"p":7,"s":"BW3","x":36,"y":0.83},{"p":7,"s":"BW3","x":37,"y":0.83},{"p":7,"s":"BW3","x":38,"y":0.84},{"p":7,"s":"BW3","x":39,"y":0.86},{"p":7,"s":"BW3","x":40,"y":0.86},
{"p":7,"s":"BW4","x":9,"y":0.1},{"p":7,"s":"BW4","x":10,"y":0.3},{"p":7,"s":"BW4","x":11,"y":0.29},{"p":7,"s":"BW4","x":12,"y":0.29},{"p":7,"s":"BW4","x":13,"y":0.33},{"p":7,"s":"BW4","x":14,"y":0.1},{"p":7,"s":"BW4","x":15,"y":1.0},{"p":7,"s":"BW4","x":16,"y":0.23},{"p":7,"s":"BW4","x":17,"y":0.17},{"p":7,"s":"BW4","x":18,"y":0.12},{"p":7,"s":"BW4","x":19,"y":0.12},{"p":7,"s":"BW4","x":20,"y":0.03},{"p":7,"s":"BW4","x":21,"y":0.03},{"p":7,"s":"BW4","x":22,"y":0.97},{"p":7,"s":"BW4","x":23,"y":0.4},{"p":7,"s":"BW4","x":24,"y":0.33},{"p":7,"s":"BW4","x":25,"y":0.36},{"p":7,"s":"BW4","x":26,"y":0.35},{"p":7,"s":"BW4","x":27,"y":0.56},{"p":7,"s":"BW4","x":28,"y":0.56},{"p":7,"s":"BW4","x":29,"y":0.82},{"p":7,"s":"BW4","x":30,"y":3},{"p":7,"s":"BW4","x":31,"y":1.86},{"p":7,"s":"BW4","x":32,"y":1.1},{"p":7,"s":"BW4","x":33,"y":0.8},{"p":7,"s":"BW4","x":34,"y":0.69},{"p":7,"s":"BW4","x":35,"y":0.69},{"p":7,"s":"BW4","x":36,"y":0.6},{"p":7,"s":"BW4","x":37,"y":0.56},{"p":7,"s":"BW4","x":38,"y":0.56},{"p":7,"s":"BW4","x":39,"y":0.56},{"p":7,"s":"BW4","x":40,"y":0.56},

{"p":8,"s":"BW1","x":9,"y":0.35},{"p":8,"s":"BW1","x":10,"y":0.15},{"p":8,"s":"BW1","x":11,"y":0.29},{"p":8,"s":"BW1","x":12,"y":1.0},{"p":8,"s":"BW1","x":13,"y":1.06},{"p":8,"s":"BW1","x":14,"y":0.86},{"p":8,"s":"BW1","x":15,"y":0.05},{"p":8,"s":"BW1","x":16,"y":0.02},{"p":8,"s":"BW1","x":17,"y":0.01},{"p":8,"s":"BW1","x":18,"y":0.02},{"p":8,"s":"BW1","x":19,"y":0.04},{"p":8,"s":"BW1","x":20,"y":0.05},{"p":8,"s":"BW1","x":21,"y":0.07},{"p":8,"s":"BW1","x":22,"y":1.5},{"p":8,"s":"BW1","x":23,"y":0.97},{"p":8,"s":"BW1","x":24,"y":0.8},{"p":8,"s":"BW1","x":25,"y":0.5},{"p":8,"s":"BW1","x":26,"y":0.53},{"p":8,"s":"BW1","x":27,"y":0.45},{"p":8,"s":"BW1","x":28,"y":0.7},{"p":8,"s":"BW1","x":29,"y":0.98},{"p":8,"s":"BW1","x":30,"y":0.98},{"p":8,"s":"BW1","x":31,"y":0.63},{"p":8,"s":"BW1","x":32,"y":1.77},{"p":8,"s":"BW1","x":33,"y":1.24},{"p":8,"s":"BW1","x":34,"y":1.18},{"p":8,"s":"BW1","x":35,"y":1.17},{"p":8,"s":"BW1","x":36,"y":0.87},{"p":8,"s":"BW1","x":37,"y":0.5},{"p":8,"s":"BW1","x":38,"y":0.45},{"p":8,"s":"BW1","x":39,"y":0.37},{"p":8,"s":"BW1","x":40,"y":0.2},
{"p":8,"s":"BW2","x":9,"y":1.11},{"p":8,"s":"BW2","x":10,"y":0.68},{"p":8,"s":"BW2","x":11,"y":1.02},{"p":8,"s":"BW2","x":12,"y":3},{"p":8,"s":"BW2","x":14,"y":3},{"p":8,"s":"BW2","x":15,"y":0.45},{"p":8,"s":"BW2","x":16,"y":0.29},{"p":8,"s":"BW2","x":17,"y":0.42},{"p":8,"s":"BW2","x":18,"y":0.42},{"p":8,"s":"BW2","x":19,"y":0.43},{"p":8,"s":"BW2","x":20,"y":0.62},{"p":8,"s":"BW2","x":21,"y":0.83},{"p":8,"s":"BW2","x":22,"y":0.9},{"p":8,"s":"BW2","x":23,"y":0.69},{"p":8,"s":"BW2","x":24,"y":0.6},{"p":8,"s":"BW2","x":25,"y":0.39},{"p":8,"s":"BW2","x":26,"y":0.42},{"p":8,"s":"BW2","x":27,"y":0.36},{"p":8,"s":"BW2","x":28,"y":0.53},{"p":8,"s":"BW2","x":29,"y":0.65},{"p":8,"s":"BW2","x":30,"y":0.65},{"p":8,"s":"BW2","x":31,"y":0.44},{"p":8,"s":"BW2","x":32,"y":0.93},{"p":8,"s":"BW2","x":33,"y":1.01},{"p":8,"s":"BW2","x":34,"y":1.0},{"p":8,"s":"BW2","x":35,"y":1.0},{"p":8,"s":"BW2","x":36,"y":1.06},{"p":8,"s":"BW2","x":37,"y":0.78},{"p":8,"s":"BW2","x":38,"y":0.76},{"p":8,"s":"BW2","x":39,"y":0.65},{"p":8,"s":"BW2","x":40,"y":0.2},
{"p":8,"s":"BW3","x":9,"y":1.43},{"p":8,"s":"BW3","x":10,"y":3},{"p":8,"s":"BW3","x":14,"y":3},{"p":8,"s":"BW3","x":15,"y":0.16},{"p":8,"s":"BW3","x":16,"y":0.24},{"p":8,"s":"BW3","x":17,"y":0.05},{"p":8,"s":"BW3","x":18,"y":0.05},{"p":8,"s":"BW3","x":19,"y":0.06},{"p":8,"s":"BW3","x":20,"y":0.15},{"p":8,"s":"BW3","x":21,"y":0.3},{"p":8,"s":"BW3","x":22,"y":0.52},{"p":8,"s":"BW3","x":23,"y":0.6},{"p":8,"s":"BW3","x":24,"y":0.63},{"p":8,"s":"BW3","x":25,"y":0.72},{"p":8,"s":"BW3","x":26,"y":0.68},{"p":8,"s":"BW3","x":27,"y":0.63},{"p":8,"s":"BW3","x":28,"y":0.68},{"p":8,"s":"BW3","x":29,"y":0.76},{"p":8,"s":"BW3","x":30,"y":0.77},{"p":8,"s":"BW3","x":31,"y":0.77},{"p":8,"s":"BW3","x":32,"y":0.77},{"p":8,"s":"BW3","x":33,"y":0.8},{"p":8,"s":"BW3","x":34,"y":0.8},{"p":8,"s":"BW3","x":35,"y":0.8},{"p":8,"s":"BW3","x":36,"y":0.81},{"p":8,"s":"BW3","x":37,"y":0.84},{"p":8,"s":"BW3","x":38,"y":0.83},{"p":8,"s":"BW3","x":39,"y":0.86},{"p":8,"s":"BW3","x":40,"y":0.86},
{"p":8,"s":"BW4","x":9,"y":0.73},{"p":8,"s":"BW4","x":10,"y":0.55},{"p":8,"s":"BW4","x":11,"y":0.7},{"p":8,"s":"BW4","x":12,"y":0.29},{"p":8,"s":"BW4","x":13,"y":0.31},{"p":8,"s":"BW4","x":14,"y":0.27},{"p":8,"s":"BW4","x":15,"y":0.8},{"p":8,"s":"BW4","x":16,"y":0.0},{"p":8,"s":"BW4","x":17,"y":0.03},{"p":8,"s":"BW4","x":18,"y":0.05},{"p":8,"s":"BW4","x":19,"y":0.02},{"p":8,"s":"BW4","x":20,"y":0.07},{"p":8,"s":"BW4","x":21,"y":0.07},{"p":8,"s":"BW4","x":22,"y":0.01},{"p":8,"s":"BW4","x":23,"y":0.05},{"p":8,"s":"BW4","x":24,"y":0.07},{"p":8,"s":"BW4","x":25,"y":0.09},{"p":8,"s":"BW4","x":26,"y":0.1},{"p":8,"s":"BW4","x":27,"y":0.1},{"p":8,"s":"BW4","x":28,"y":0.13},{"p":8,"s":"BW4","x":29,"y":3},{"p":8,"s":"BW4","x":31,"y":3},{"p":8,"s":"BW4","x":32,"y":2.0},{"p":8,"s":"BW4","x":33,"y":1.0},{"p":8,"s":"BW4","x":34,"y":0.88},{"p":8,"s":"BW4","x":35,"y":0.87},{"p":8,"s":"BW4","x":36,"y":0.6},{"p":8,"s":"BW4","x":37,"y":0.38},{"p":8,"s":"BW4","x":38,"y":0.34},{"p":8,"s":"BW4","x":39,"y":0.28},{"p":8,"s":"BW4","x":40,"y":0.15},

{"p":9,"s":"BW1","x":9,"y":0.96},{"p":9,"s":"BW1","x":10,"y":1.24},{"p":9,"s":"BW1","x":11,"y":0.82},{"p":9,"s":"BW1","x":12,"y":0.3},{"p":9,"s":"BW1","x":13,"y":0.33},{"p":9,"s":"BW1","x":14,"y":0.11},{"p":9,"s":"BW1","x":15,"y":0.16},{"p":9,"s":"BW1","x":16,"y":0.15},{"p":9,"s":"BW1","x":17,"y":0.17},{"p":9,"s":"BW1","x":18,"y":0.16},{"p":9,"s":"BW1","x":19,"y":0.15},{"p":9,"s":"BW1","x":20,"y":0.35},{"p":9,"s":"BW1","x":21,"y":0.06},{"p":9,"s":"BW1","x":22,"y":0.25},{"p":9,"s":"BW1","x":23,"y":0.25},{"p":9,"s":"BW1","x":24,"y":0.26},{"p":9,"s":"BW1","x":25,"y":0.27},{"p":9,"s":"BW1","x":26,"y":0.28},{"p":9,"s":"BW1","x":27,"y":0.28},{"p":9,"s":"BW1","x":28,"y":0.24},{"p":9,"s":"BW1","x":29,"y":0.2},{"p":9,"s":"BW1","x":30,"y":0.16},{"p":9,"s":"BW1","x":31,"y":0.17},{"p":9,"s":"BW1","x":32,"y":3},{"p":9,"s":"BW1","x":33,"y":1.45},{"p":9,"s":"BW1","x":34,"y":1.33},{"p":9,"s":"BW1","x":35,"y":1.24},{"p":9,"s":"BW1","x":36,"y":0.95},{"p":9,"s":"BW1","x":37,"y":0.42},{"p":9,"s":"BW1","x":38,"y":0.37},{"p":9,"s":"BW1","x":39,"y":0.13},{"p":9,"s":"BW1","x":40,"y":0.07},
{"p":9,"s":"BW2","x":9,"y":0.2},{"p":9,"s":"BW2","x":10,"y":0.48},{"p":9,"s":"BW2","x":11,"y":0.03},{"p":9,"s":"BW2","x":12,"y":0.06},{"p":9,"s":"BW2","x":13,"y":0.22},{"p":9,"s":"BW2","x":14,"y":0.27},{"p":9,"s":"BW2","x":15,"y":0.19},{"p":9,"s":"BW2","x":16,"y":0.04},{"p":9,"s":"BW2","x":17,"y":0.15},{"p":9,"s":"BW2","x":18,"y":0.12},{"p":9,"s":"BW2","x":19,"y":0.06},{"p":9,"s":"BW2","x":20,"y":0.03},{"p":9,"s":"BW2","x":21,"y":3},{"p":9,"s":"BW2","x":22,"y":1.84},{"p":9,"s":"BW2","x":23,"y":0.95},{"p":9,"s":"BW2","x":24,"y":0.83},{"p":9,"s":"BW2","x":25,"y":0.5},{"p":9,"s":"BW2","x":26,"y":0.58},{"p":9,"s":"BW2","x":27,"y":0.6},{"p":9,"s":"BW2","x":28,"y":0.55},{"p":9,"s":"BW2","x":29,"y":0.39},{"p":9,"s":"BW2","x":30,"y":0.37},{"p":9,"s":"BW2","x":31,"y":0.37},{"p":9,"s":"BW2","x":32,"y":0.37},{"p":9,"s":"BW2","x":33,"y":0.17},{"p":9,"s":"BW2","x":34,"y":0.16},{"p":9,"s":"BW2","x":35,"y":0.12},{"p":9,"s":"BW2","x":36,"y":0.06},{"p":9,"s":"BW2","x":37,"y":0.18},{"p":9,"s":"BW2","x":38,"y":0.19},{"p":9,"s":"BW2","x":39,"y":0.33},{"p":9,"s":"BW2","x":40,"y":0.45},
{"p":9,"s":"BW3","x":10,"y":3},{"p":9,"s":"BW3","x":11,"y":1.09},{"p":9,"s":"BW3","x":12,"y":0.06},{"p":9,"s":"BW3","x":13,"y":0.43},{"p":9,"s":"BW3","x":14,"y":0.96},{"p":9,"s":"BW3","x":15,"y":0.63},{"p":9,"s":"BW3","x":16,"y":0.35},{"p":9,"s":"BW3","x":17,"y":0.46},{"p":9,"s":"BW3","x":18,"y":0.49},{"p":9,"s":"BW3","x":19,"y":0.2},{"p":9,"s":"BW3","x":20,"y":0.35},{"p":9,"s":"BW3","x":21,"y":0.06},{"p":9,"s":"BW3","x":22,"y":0.25},{"p":9,"s":"BW3","x":23,"y":0.5},{"p":9,"s":"BW3","x":24,"y":0.5},{"p":9,"s":"BW3","x":25,"y":0.62},{"p":9,"s":"BW3","x":26,"y":0.57},{"p":9,"s":"BW3","x":27,"y":0.53},{"p":9,"s":"BW3","x":28,"y":0.63},{"p":9,"s":"BW3","x":29,"y":0.7},{"p":9,"s":"BW3","x":30,"y":0.71},{"p":9,"s":"BW3","x":31,"y":0.7},{"p":9,"s":"BW3","x":32,"y":0.73},{"p":9,"s":"BW3","x":33,"y":0.8},{"p":9,"s":"BW3","x":34,"y":0.8},{"p":9,"s":"BW3","x":35,"y":0.81},{"p":9,"s":"BW3","x":36,"y":0.82},{"p":9,"s":"BW3","x":37,"y":0.88},{"p":9,"s":"BW3","x":38,"y":0.88},{"p":9,"s":"BW3","x":39,"y":0.91},{"p":9,"s":"BW3","x":40,"y":0.91},
{"p":9,"s":"BW4","x":9,"y":0.02},{"p":9,"s":"BW4","x":10,"y":0.13},{"p":9,"s":"BW4","x":11,"y":0.0},{"p":9,"s":"BW4","x":12,"y":0.05},{"p":9,"s":"BW4","x":13,"y":0.08},{"p":9,"s":"BW4","x":14,"y":0.14},{"p":9,"s":"BW4","x":15,"y":0.15},{"p":9,"s":"BW4","x":16,"y":0.17},{"p":9,"s":"BW4","x":17,"y":0.16},{"p":9,"s":"BW4","x":18,"y":0.15},{"p":9,"s":"BW4","x":19,"y":0.1},{"p":9,"s":"BW4","x":20,"y":0.13},{"p":9,"s":"BW4","x":21,"y":0.38},{"p":9,"s":"BW4","x":22,"y":0.28},{"p":9,"s":"BW4","x":23,"y":0.18},{"p":9,"s":"BW4","x":24,"y":0.18},{"p":9,"s":"BW4","x":25,"y":0.28},{"p":9,"s":"BW4","x":26,"y":0.29},{"p":9,"s":"BW4","x":27,"y":0.16},{"p":9,"s":"BW4","x":28,"y":0.27},{"p":9,"s":"BW4","x":29,"y":3},{"p":9,"s":"BW4","x":31,"y":3},{"p":9,"s":"BW4","x":32,"y":0.0},{"p":9,"s":"BW4","x":33,"y":0.0},{"p":9,"s":"BW4","x":34,"y":0.05},{"p":9,"s":"BW4","x":35,"y":0.07},{"p":9,"s":"BW4","x":36,"y":0.12},{"p":9,"s":"BW4","x":37,"y":0.17},{"p":9,"s":"BW4","x":38,"y":0.2},{"p":9,"s":"BW4","x":39,"y":0.22},{"p":9,"s":"BW4","x":40,"y":0.22},

{"p":10,"s":"BW1","x":9,"y":0.8},{"p":10,"s":"BW1","x":10,"y":0.1},{"p":10,"s":"BW1","x":11,"y":0.03},{"p":10,"s":"BW1","x":12,"y":0.19},{"p":10,"s":"BW1","x":13,"y":1.03},{"p":10,"s":"BW1","x":14,"y":0.9},{"p":10,"s":"BW1","x":15,"y":0.4},{"p":10,"s":"BW1","x":16,"y":0.4},{"p":10,"s":"BW1","x":17,"y":0.29},{"p":10,"s":"BW1","x":18,"y":0.57},{"p":10,"s":"BW1","x":19,"y":1.1},{"p":10,"s":"BW1","x":20,"y":1.13},{"p":10,"s":"BW1","x":21,"y":1.25},{"p":10,"s":"BW1","x":22,"y":0.54},{"p":10,"s":"BW1","x":23,"y":0.15},{"p":10,"s":"BW1","x":24,"y":0.13},{"p":10,"s":"BW1","x":25,"y":0.13},{"p":10,"s":"BW1","x":26,"y":0.13},{"p":10,"s":"BW1","x":27,"y":0.22},{"p":10,"s":"BW1","x":28,"y":0.34},{"p":10,"s":"BW1","x":29,"y":0.48},{"p":10,"s":"BW1","x":30,"y":0.72},{"p":10,"s":"BW1","x":31,"y":0.74},{"p":10,"s":"BW1","x":32,"y":0.75},{"p":10,"s":"BW1","x":33,"y":0.45},{"p":10,"s":"BW1","x":34,"y":0.17},{"p":10,"s":"BW1","x":35,"y":0.02},{"p":10,"s":"BW1","x":36,"y":0.19},{"p":10,"s":"BW1","x":37,"y":0.26},{"p":10,"s":"BW1","x":38,"y":0.23},{"p":10,"s":"BW1","x":39,"y":0.3},{"p":10,"s":"BW1","x":40,"y":0.36},
{"p":10,"s":"BW2","x":9,"y":0.85},{"p":10,"s":"BW2","x":10,"y":0.12},{"p":10,"s":"BW2","x":11,"y":0.3},{"p":10,"s":"BW2","x":12,"y":0.0},{"p":10,"s":"BW2","x":13,"y":0.01},{"p":10,"s":"BW2","x":14,"y":3},{"p":10,"s":"BW2","x":17,"y":3},{"p":10,"s":"BW2","x":18,"y":1.55},{"p":10,"s":"BW2","x":19,"y":1.96},{"p":10,"s":"BW2","x":20,"y":3},{"p":10,"s":"BW2","x":21,"y":1.67},{"p":10,"s":"BW2","x":22,"y":0.53},{"p":10,"s":"BW2","x":23,"y":0.07},{"p":10,"s":"BW2","x":24,"y":0.07},{"p":10,"s":"BW2","x":25,"y":0.13},{"p":10,"s":"BW2","x":26,"y":0.13},{"p":10,"s":"BW2","x":27,"y":0.2},{"p":10,"s":"BW2","x":28,"y":0.28},{"p":10,"s":"BW2","x":29,"y":0.36},{"p":10,"s":"BW2","x":30,"y":0.35},{"p":10,"s":"BW2","x":31,"y":0.43},{"p":10,"s":"BW2","x":32,"y":0.43},{"p":10,"s":"BW2","x":33,"y":0.51},{"p":10,"s":"BW2","x":34,"y":0.57},{"p":10,"s":"BW2","x":35,"y":0.61},{"p":10,"s":"BW2","x":36,"y":0.63},{"p":10,"s":"BW2","x":37,"y":0.64},{"p":10,"s":"BW2","x":38,"y":0.62},{"p":10,"s":"BW2","x":39,"y":0.63},{"p":10,"s":"BW2","x":40,"y":0.63},
{"p":10,"s":"BW3","x":9,"y":1.34},{"p":10,"s":"BW3","x":10,"y":0.98},{"p":10,"s":"BW3","x":11,"y":3},{"p":10,"s":"BW3","x":12,"y":0.93},{"p":10,"s":"BW3","x":13,"y":1.46},{"p":10,"s":"BW3","x":14,"y":1.23},{"p":10,"s":"BW3","x":15,"y":1.53},{"p":10,"s":"BW3","x":16,"y":1.55},{"p":10,"s":"BW3","x":17,"y":1.3},{"p":10,"s":"BW3","x":18,"y":1.91},{"p":10,"s":"BW3","x":19,"y":1.35},{"p":10,"s":"BW3","x":20,"y":1.57},{"p":10,"s":"BW3","x":21,"y":1.16},{"p":10,"s":"BW3","x":22,"y":0.25},{"p":10,"s":"BW3","x":23,"y":0.29},{"p":10,"s":"BW3","x":24,"y":0.3},{"p":10,"s":"BW3","x":25,"y":0.39},{"p":10,"s":"BW3","x":26,"y":0.38},{"p":10,"s":"BW3","x":27,"y":0.5},{"p":10,"s":"BW3","x":28,"y":0.56},{"p":10,"s":"BW3","x":29,"y":0.69},{"p":10,"s":"BW3","x":30,"y":0.7},{"p":10,"s":"BW3","x":31,"y":0.78},{"p":10,"s":"BW3","x":32,"y":0.8},{"p":10,"s":"BW3","x":33,"y":0.86},{"p":10,"s":"BW3","x":34,"y":0.88},{"p":10,"s":"BW3","x":35,"y":0.91},{"p":10,"s":"BW3","x":36,"y":0.91},{"p":10,"s":"BW3","x":37,"y":0.92},{"p":10,"s":"BW3","x":38,"y":0.91},{"p":10,"s":"BW3","x":39,"y":0.89},{"p":10,"s":"BW3","x":40,"y":0.9},
{"p":10,"s":"BW4","x":9,"y":0.28},{"p":10,"s":"BW4","x":10,"y":0.58},{"p":10,"s":"BW4","x":11,"y":0.56},{"p":10,"s":"BW4","x":12,"y":0.01},{"p":10,"s":"BW4","x":13,"y":0.0},{"p":10,"s":"BW4","x":14,"y":0.04},{"p":10,"s":"BW4","x":15,"y":1.53},{"p":10,"s":"BW4","x":16,"y":1.58},{"p":10,"s":"BW4","x":17,"y":1.05},{"p":10,"s":"BW4","x":18,"y":0.2},{"p":10,"s":"BW4","x":19,"y":0.89},{"p":10,"s":"BW4","x":20,"y":1.22},{"p":10,"s":"BW4","x":21,"y":0.77},{"p":10,"s":"BW4","x":22,"y":0.17},{"p":10,"s":"BW4","x":23,"y":0.0},{"p":10,"s":"BW4","x":24,"y":0.0},{"p":10,"s":"BW4","x":25,"y":0.0},{"p":10,"s":"BW4","x":26,"y":0.0},{"p":10,"s":"BW4","x":27,"y":0.05},{"p":10,"s":"BW4","x":28,"y":0.25},{"p":10,"s":"BW4","x":29,"y":1.74},{"p":10,"s":"BW4","x":30,"y":1.19},{"p":10,"s":"BW4","x":31,"y":0.8},{"p":10,"s":"BW4","x":32,"y":0.45},{"p":10,"s":"BW4","x":33,"y":0.14},{"p":10,"s":"BW4","x":34,"y":0.0},{"p":10,"s":"BW4","x":35,"y":0.05},{"p":10,"s":"BW4","x":36,"y":0.19},{"p":10,"s":"BW4","x":37,"y":0.2},{"p":10,"s":"BW4","x":38,"y":0.2},{"p":10,"s":"BW4","x":39,"y":0.24},{"p":10,"s":"BW4","x":40,"y":0.25},

{"p":11,"s":"BW1","x":9,"y":1.25},{"p":11,"s":"BW1","x":10,"y":0.38},{"p":11,"s":"BW1","x":11,"y":3},{"p":11,"s":"BW1","x":12,"y":3},{"p":11,"s":"BW1","x":13,"y":0.77},{"p":11,"s":"BW1","x":14,"y":1.25},{"p":11,"s":"BW1","x":15,"y":0.03},{"p":11,"s":"BW1","x":16,"y":0.05},{"p":11,"s":"BW1","x":17,"y":0.14},{"p":11,"s":"BW1","x":18,"y":0.02},{"p":11,"s":"BW1","x":19,"y":3},{"p":11,"s":"BW1","x":20,"y":1.98},{"p":11,"s":"BW1","x":21,"y":3},{"p":11,"s":"BW1","x":22,"y":0.17},{"p":11,"s":"BW1","x":23,"y":0.3},{"p":11,"s":"BW1","x":24,"y":0.3},{"p":11,"s":"BW1","x":25,"y":0.25},{"p":11,"s":"BW1","x":26,"y":0.25},{"p":11,"s":"BW1","x":27,"y":0.3},{"p":11,"s":"BW1","x":28,"y":0.43},{"p":11,"s":"BW1","x":29,"y":0.51},{"p":11,"s":"BW1","x":30,"y":0.56},{"p":11,"s":"BW1","x":31,"y":0.58},{"p":11,"s":"BW1","x":32,"y":0.42},{"p":11,"s":"BW1","x":33,"y":0.1},{"p":11,"s":"BW1","x":34,"y":0.05},{"p":11,"s":"BW1","x":35,"y":0.23},{"p":11,"s":"BW1","x":36,"y":0.24},{"p":11,"s":"BW1","x":37,"y":0.23},{"p":11,"s":"BW1","x":38,"y":0.3},{"p":11,"s":"BW1","x":39,"y":0.37},{"p":11,"s":"BW1","x":40,"y":0.35},
{"p":11,"s":"BW2","x":9,"y":0.1},{"p":11,"s":"BW2","x":10,"y":0.1},{"p":11,"s":"BW2","x":11,"y":0.11},{"p":11,"s":"BW2","x":12,"y":0.18},{"p":11,"s":"BW2","x":13,"y":0.05},{"p":11,"s":"BW2","x":14,"y":0.57},{"p":11,"s":"BW2","x":15,"y":3},{"p":11,"s":"BW2","x":16,"y":3},{"p":11,"s":"BW2","x":17,"y":1.56},{"p":11,"s":"BW2","x":18,"y":3},{"p":11,"s":"BW2","x":19,"y":1.29},{"p":11,"s":"BW2","x":20,"y":3},{"p":11,"s":"BW2","x":21,"y":0.99},{"p":11,"s":"BW2","x":22,"y":0.04},{"p":11,"s":"BW2","x":23,"y":0.2},{"p":11,"s":"BW2","x":24,"y":0.22},{"p":11,"s":"BW2","x":25,"y":0.31},{"p":11,"s":"BW2","x":26,"y":0.31},{"p":11,"s":"BW2","x":27,"y":0.39},{"p":11,"s":"BW2","x":28,"y":0.41},{"p":11,"s":"BW2","x":29,"y":0.44},{"p":11,"s":"BW2","x":30,"y":0.47},{"p":11,"s":"BW2","x":31,"y":0.49},{"p":11,"s":"BW2","x":32,"y":0.54},{"p":11,"s":"BW2","x":33,"y":0.6},{"p":11,"s":"BW2","x":34,"y":0.62},{"p":11,"s":"BW2","x":35,"y":0.67},{"p":11,"s":"BW2","x":36,"y":0.65},{"p":11,"s":"BW2","x":37,"y":0.65},{"p":11,"s":"BW2","x":38,"y":0.65},{"p":11,"s":"BW2","x":39,"y":0.66},{"p":11,"s":"BW2","x":40,"y":0.65},
{"p":11,"s":"BW3","x":9,"y":0.13},{"p":11,"s":"BW3","x":10,"y":0.34},{"p":11,"s":"BW3","x":11,"y":0.1},{"p":11,"s":"BW3","x":12,"y":1.43},{"p":11,"s":"BW3","x":13,"y":3},{"p":11,"s":"BW3","x":14,"y":0.31},{"p":11,"s":"BW3","x":15,"y":3},{"p":11,"s":"BW3","x":16,"y":3},{"p":11,"s":"BW3","x":17,"y":1.25},{"p":11,"s":"BW3","x":18,"y":3},{"p":11,"s":"BW3","x":19,"y":1.8},{"p":11,"s":"BW3","x":20,"y":3},{"p":11,"s":"BW3","x":21,"y":1.39},{"p":11,"s":"BW3","x":22,"y":0.67},{"p":11,"s":"BW3","x":23,"y":0.19},{"p":11,"s":"BW3","x":24,"y":0.2},{"p":11,"s":"BW3","x":25,"y":0.4},{"p":11,"s":"BW3","x":26,"y":0.39},{"p":11,"s":"BW3","x":27,"y":0.53},{"p":11,"s":"BW3","x":28,"y":0.6},{"p":11,"s":"BW3","x":29,"y":0.7},{"p":11,"s":"BW3","x":30,"y":0.75},{"p":11,"s":"BW3","x":31,"y":0.78},{"p":11,"s":"BW3","x":32,"y":0.85},{"p":11,"s":"BW3","x":33,"y":0.89},{"p":11,"s":"BW3","x":34,"y":0.92},{"p":11,"s":"BW3","x":35,"y":0.94},{"p":11,"s":"BW3","x":36,"y":0.93},{"p":11,"s":"BW3","x":37,"y":0.91},{"p":11,"s":"BW3","x":38,"y":0.9},{"p":11,"s":"BW3","x":39,"y":0.9},{"p":11,"s":"BW3","x":40,"y":0.9},
{"p":11,"s":"BW4","x":9,"y":0.29},{"p":11,"s":"BW4","x":10,"y":0.29},{"p":11,"s":"BW4","x":11,"y":0.1},{"p":11,"s":"BW4","x":12,"y":0.15},{"p":11,"s":"BW4","x":13,"y":0.19},{"p":11,"s":"BW4","x":14,"y":0.23},{"p":11,"s":"BW4","x":15,"y":0.03},{"p":11,"s":"BW4","x":16,"y":0.05},{"p":11,"s":"BW4","x":17,"y":0.15},{"p":11,"s":"BW4","x":18,"y":0.1},{"p":11,"s":"BW4","x":19,"y":0.17},{"p":11,"s":"BW4","x":20,"y":0.24},{"p":11,"s":"BW4","x":21,"y":0.1},{"p":11,"s":"BW4","x":22,"y":0.13},{"p":11,"s":"BW4","x":23,"y":0.21},{"p":11,"s":"BW4","x":24,"y":0.18},{"p":11,"s":"BW4","x":25,"y":0.17},{"p":11,"s":"BW4","x":26,"y":0.17},{"p":11,"s":"BW4","x":27,"y":0.16},{"p":11,"s":"BW4","x":28,"y":3},{"p":11,"s":"BW4","x":29,"y":1.66},{"p":11,"s":"BW4","x":30,"y":1.1},{"p":11,"s":"BW4","x":31,"y":0.87},{"p":11,"s":"BW4","x":32,"y":0.4},{"p":11,"s":"BW4","x":33,"y":0.08},{"p":11,"s":"BW4","x":34,"y":0.0},{"p":11,"s":"BW4","x":35,"y":0.14},{"p":11,"s":"BW4","x":36,"y":0.15},{"p":11,"s":"BW4","x":37,"y":0.15},{"p":11,"s":"BW4","x":38,"y":0.2},{"p":11,"s":"BW4","x":39,"y":0.25},{"p":11,"s":"BW4","x":40,"y":0.25}
]},
"concat":[
{"width":355,"height":333,"layer":[
  {"transform":[{"filter":"datum.p==1"}],"mark":{"type":"line","clip":true},"encoding":{"x":{"field":"x","type":"quantitative","scale":{"domain":[0,40]},"axis":{"values":[0,10,20,30,40]}},"y":{"field":"y","type":"quantitative","scale":{"domain":[0,2]},"axis":{"values":[0,0.25,0.5,0.75,1,1.25,1.5,1.75,2],"labelExpr":"datum.value % 0.5 === 0 ? format(datum.value, '.1f') : ''"}},"detail":{"field":"s"}}},
  {"transform":[{"filter":"datum.p==1"}],"mark":{"type":"point","clip":true},"encoding":{"x":{"field":"x","type":"quantitative"},"y":{"field":"y","type":"quantitative"},
    "shape":{"field":"s","type":"nominal","scale":{"domain":["BW1","BW2","BW3","BW4"],"range":["circle","circle","square","triangle-up"]}},
    "fill":{"field":"s","type":"nominal","scale":{"domain":["BW1","BW2","BW3","BW4"],"range":["white","black","white","black"]}}}},
  {"transform":[{"filter":"datum.p==1"},{"aggregate":[{"op":"count","as":"n"}]}],"mark":{"type":"rect","fill":"white"},"encoding":{"x":{"datum":0.25},"x2":{"datum":16.4},"y":{"datum":1.1},"y2":{"datum":1.98}}},
  {"transform":[{"filter":"datum.p==1"},{"aggregate":[{"op":"count","as":"n"}]}],"mark":"text","encoding":{"x":{"datum":0.9},"y":{"datum":1.97},"text":{"value":["F0 = 0.949 Bark","F1 = 3 Bark","Nf = 9"]}}},
  {"transform":[{"filter":"datum.p==1"},{"aggregate":[{"op":"count","as":"n"}]}],"mark":{"type":"point","shape":"M-11.8,0H-1.33M1.33,0H11.8M1.33,0A1.33,1.33,0,1,1,-1.33,0A1.33,1.33,0,1,1,1.33,0Z","size":36,"filled":true,"fill":"white","stroke":"black","strokeWidth":1.4},"encoding":{"x":{"datum":6.6},"y":{"datum":1.507}}},
  {"transform":[{"filter":"datum.p==1"},{"aggregate":[{"op":"count","as":"n"}]}],"mark":{"type":"point","shape":"M-11.8,0H-1.33M1.33,0H11.8M1.33,0A1.33,1.33,0,1,1,-1.33,0A1.33,1.33,0,1,1,1.33,0Z","size":36,"filled":true,"fill":"black","stroke":"black","strokeWidth":1.4},"encoding":{"x":{"datum":6.6},"y":{"datum":1.405}}},
  {"transform":[{"filter":"datum.p==1"},{"aggregate":[{"op":"count","as":"n"}]}],"mark":{"type":"point","shape":"M-11.8,0H-1.33M1.33,0H11.8M1.33,0A1.33,1.33,0,1,1,-1.33,0A1.33,1.33,0,1,1,1.33,0Z","size":36,"filled":true,"fill":"white","stroke":"black","strokeWidth":1.4},"encoding":{"x":{"datum":6.6},"y":{"datum":1.309}}},
  {"transform":[{"filter":"datum.p==1"},{"aggregate":[{"op":"count","as":"n"}]}],"mark":{"type":"point","shape":"M-11.8,0H11.8M0,-1.4L1.3,1L-1.3,1Z","size":36,"filled":true,"fill":"black","stroke":"black","strokeWidth":1.4},"encoding":{"x":{"datum":6.6},"y":{"datum":1.213}}},
  {"transform":[{"filter":"datum.p==1"},{"aggregate":[{"op":"count","as":"n"}]}],"mark":{"type":"text","font":"Liberation Sans","fontStyle":"normal","fontWeight":"normal","fontSize":16,"lineHeight":16.2,"align":"left","baseline":"top"},"encoding":{"x":{"datum":12.7},"y":{"datum":1.558},"text":{"value":["BW1","BW2","BW3","BW4"]}}}
 ]},
{"width":355,"height":333,"layer":[
  {"transform":[{"filter":"datum.p==2"}],"mark":{"type":"line","clip":true},"encoding":{"x":{"field":"x","type":"quantitative","scale":{"domain":[0,40]},"axis":{"values":[0,10,20,30,40]}},"y":{"field":"y","type":"quantitative","scale":{"domain":[0,2]},"axis":{"values":[0,0.25,0.5,0.75,1,1.25,1.5,1.75,2],"labelExpr":"datum.value % 0.5 === 0 ? format(datum.value, '.1f') : ''"}},"detail":{"field":"s"}}},
  {"transform":[{"filter":"datum.p==2"}],"mark":{"type":"point","clip":true},"encoding":{"x":{"field":"x","type":"quantitative"},"y":{"field":"y","type":"quantitative"},"shape":{"field":"s","type":"nominal"},"fill":{"field":"s","type":"nominal"}}},
  {"transform":[{"filter":"datum.p==2"},{"aggregate":[{"op":"count","as":"n"}]}],"mark":{"type":"rect","fill":"white"},"encoding":{"x":{"datum":0.25},"x2":{"datum":15.6},"y":{"datum":1.57},"y2":{"datum":1.98}}},
  {"transform":[{"filter":"datum.p==2"},{"aggregate":[{"op":"count","as":"n"}]}],"mark":"text","encoding":{"x":{"datum":0.9},"y":{"datum":1.97},"text":{"value":["F0 = 1.27 Bark","F1 = 3 Bark","Nf = 9"]}}}
 ]},
{"width":355,"height":333,"layer":[
  {"transform":[{"filter":"datum.p==3"}],"mark":{"type":"line","clip":true},"encoding":{"x":{"field":"x","type":"quantitative","scale":{"domain":[0,40]},"axis":{"values":[0,10,20,30,40]}},"y":{"field":"y","type":"quantitative","scale":{"domain":[0,2]},"axis":{"values":[0,0.25,0.5,0.75,1,1.25,1.5,1.75,2],"labelExpr":"datum.value % 0.5 === 0 ? format(datum.value, '.1f') : ''"}},"detail":{"field":"s"}}},
  {"transform":[{"filter":"datum.p==3"}],"mark":{"type":"point","clip":true},"encoding":{"x":{"field":"x","type":"quantitative"},"y":{"field":"y","type":"quantitative"},"shape":{"field":"s","type":"nominal"},"fill":{"field":"s","type":"nominal"}}},
  {"transform":[{"filter":"datum.p==3"},{"aggregate":[{"op":"count","as":"n"}]}],"mark":{"type":"rect","fill":"white"},"encoding":{"x":{"datum":0.25},"x2":{"datum":15.7},"y":{"datum":1.57},"y2":{"datum":1.98}}},
  {"transform":[{"filter":"datum.p==3"},{"aggregate":[{"op":"count","as":"n"}]}],"mark":"text","encoding":{"x":{"datum":0.9},"y":{"datum":1.97},"text":{"value":["F0 = 1.64 Bark","F1 = 3 Bark","Nf = 9"]}}}
 ]},
{"width":355,"height":333,"layer":[
  {"transform":[{"filter":"datum.p==4"}],"mark":{"type":"line","clip":true},"encoding":{"x":{"field":"x","type":"quantitative","scale":{"domain":[0,40]},"axis":{"values":[0,10,20,30,40]}},"y":{"field":"y","type":"quantitative","scale":{"domain":[0,2]},"axis":{"values":[0,0.25,0.5,0.75,1,1.25,1.5,1.75,2],"labelExpr":"datum.value % 0.5 === 0 ? format(datum.value, '.1f') : ''"}},"detail":{"field":"s"}}},
  {"transform":[{"filter":"datum.p==4"}],"mark":{"type":"point","clip":true},"encoding":{"x":{"field":"x","type":"quantitative"},"y":{"field":"y","type":"quantitative"},"shape":{"field":"s","type":"nominal"},"fill":{"field":"s","type":"nominal"}}},
  {"transform":[{"filter":"datum.p==4"},{"aggregate":[{"op":"count","as":"n"}]}],"mark":{"type":"rect","fill":"white"},"encoding":{"x":{"datum":0.25},"x2":{"datum":15.8},"y":{"datum":1.55},"y2":{"datum":1.98}}},
  {"transform":[{"filter":"datum.p==4"},{"aggregate":[{"op":"count","as":"n"}]}],"mark":"text","encoding":{"x":{"datum":0.9},"y":{"datum":1.97},"text":{"value":["F0 = 2.04 Bark","F1 = 3 Bark","Nf = 9"]}}}
 ]},
{"width":355,"height":333,"layer":[
  {"transform":[{"filter":"datum.p==5"}],"mark":{"type":"line","clip":true},"encoding":{"x":{"field":"x","type":"quantitative","scale":{"domain":[0,40]},"axis":{"values":[0,10,20,30,40]}},"y":{"field":"y","type":"quantitative","scale":{"domain":[0,2]},"axis":{"values":[0,0.25,0.5,0.75,1,1.25,1.5,1.75,2],"labelExpr":"datum.value % 0.5 === 0 ? format(datum.value, '.1f') : ''"}},"detail":{"field":"s"}}},
  {"transform":[{"filter":"datum.p==5"}],"mark":{"type":"point","clip":true},"encoding":{"x":{"field":"x","type":"quantitative"},"y":{"field":"y","type":"quantitative"},"shape":{"field":"s","type":"nominal"},"fill":{"field":"s","type":"nominal"}}},
  {"transform":[{"filter":"datum.p==5"},{"aggregate":[{"op":"count","as":"n"}]}],"mark":{"type":"rect","fill":"white"},"encoding":{"x":{"datum":0.25},"x2":{"datum":15.9},"y":{"datum":1.56},"y2":{"datum":1.98}}},
  {"transform":[{"filter":"datum.p==5"},{"aggregate":[{"op":"count","as":"n"}]}],"mark":"text","encoding":{"x":{"datum":0.9},"y":{"datum":1.97},"text":{"value":["F0 = 2.09 Bark","F1 = 3 Bark","Nf = 9"]}}}
 ]},
{"width":355,"height":333,"layer":[
  {"transform":[{"filter":"datum.p==6"}],"mark":{"type":"line","clip":true},"encoding":{"x":{"field":"x","type":"quantitative","scale":{"domain":[0,40]},"axis":{"values":[0,10,20,30,40]}},"y":{"field":"y","type":"quantitative","scale":{"domain":[0,2]},"axis":{"values":[0,0.25,0.5,0.75,1,1.25,1.5,1.75,2],"labelExpr":"datum.value % 0.5 === 0 ? format(datum.value, '.1f') : ''"}},"detail":{"field":"s"}}},
  {"transform":[{"filter":"datum.p==6"}],"mark":{"type":"point","clip":true},"encoding":{"x":{"field":"x","type":"quantitative"},"y":{"field":"y","type":"quantitative"},"shape":{"field":"s","type":"nominal"},"fill":{"field":"s","type":"nominal"}}},
  {"transform":[{"filter":"datum.p==6"},{"aggregate":[{"op":"count","as":"n"}]}],"mark":{"type":"rect","fill":"white"},"encoding":{"x":{"datum":0.25},"x2":{"datum":15.9},"y":{"datum":1.56},"y2":{"datum":1.98}}},
  {"transform":[{"filter":"datum.p==6"},{"aggregate":[{"op":"count","as":"n"}]}],"mark":"text","encoding":{"x":{"datum":0.9},"y":{"datum":1.97},"text":{"value":["F0 = 2.67 Bark","F1 = 3 Bark","Nf = 9"]}}}
 ]},
{"width":355,"height":333,"layer":[
  {"transform":[{"filter":"datum.p==7"}],"mark":{"type":"line","clip":true},"encoding":{"x":{"field":"x","type":"quantitative","scale":{"domain":[0,40]},"axis":{"values":[0,10,20,30,40]}},"y":{"field":"y","type":"quantitative","scale":{"domain":[0,2]},"axis":{"values":[0,0.25,0.5,0.75,1,1.25,1.5,1.75,2],"labelExpr":"datum.value % 0.5 === 0 ? format(datum.value, '.1f') : ''"}},"detail":{"field":"s"}}},
  {"transform":[{"filter":"datum.p==7"}],"mark":{"type":"point","clip":true},"encoding":{"x":{"field":"x","type":"quantitative"},"y":{"field":"y","type":"quantitative"},"shape":{"field":"s","type":"nominal"},"fill":{"field":"s","type":"nominal"}}},
  {"transform":[{"filter":"datum.p==7"},{"aggregate":[{"op":"count","as":"n"}]}],"mark":{"type":"rect","fill":"white"},"encoding":{"x":{"datum":0.25},"x2":{"datum":16},"y":{"datum":1.55},"y2":{"datum":1.98}}},
  {"transform":[{"filter":"datum.p==7"},{"aggregate":[{"op":"count","as":"n"}]}],"mark":"text","encoding":{"x":{"datum":0.9},"y":{"datum":1.97},"text":{"value":["F0 = 3.29 Bark","F1 = 3 Bark","Nf = 9"]}}}
 ]},
{"width":355,"height":333,"layer":[
  {"transform":[{"filter":"datum.p==8"}],"mark":{"type":"line","clip":true},"encoding":{"x":{"field":"x","type":"quantitative","scale":{"domain":[0,40]},"axis":{"values":[0,10,20,30,40]}},"y":{"field":"y","type":"quantitative","scale":{"domain":[0,2]},"axis":{"values":[0,0.25,0.5,0.75,1,1.25,1.5,1.75,2],"labelExpr":"datum.value % 0.5 === 0 ? format(datum.value, '.1f') : ''"}},"detail":{"field":"s"}}},
  {"transform":[{"filter":"datum.p==8"}],"mark":{"type":"point","clip":true},"encoding":{"x":{"field":"x","type":"quantitative"},"y":{"field":"y","type":"quantitative"},"shape":{"field":"s","type":"nominal"},"fill":{"field":"s","type":"nominal"}}},
  {"transform":[{"filter":"datum.p==8"},{"aggregate":[{"op":"count","as":"n"}]}],"mark":{"type":"rect","fill":"white"},"encoding":{"x":{"datum":0.25},"x2":{"datum":16},"y":{"datum":1.55},"y2":{"datum":1.98}}},
  {"transform":[{"filter":"datum.p==8"},{"aggregate":[{"op":"count","as":"n"}]}],"mark":"text","encoding":{"x":{"datum":0.9},"y":{"datum":1.97},"text":{"value":["F0 = 3.40 Bark","F1 = 3 Bark","Nf = 9"]}}}
 ]},
{"width":355,"height":333,"layer":[
  {"transform":[{"filter":"datum.p==9"}],"mark":{"type":"line","clip":true},"encoding":{"x":{"field":"x","type":"quantitative","scale":{"domain":[0,40]},"axis":{"values":[0,10,20,30,40]}},"y":{"field":"y","type":"quantitative","scale":{"domain":[0,2]},"axis":{"values":[0,0.25,0.5,0.75,1,1.25,1.5,1.75,2],"labelExpr":"datum.value % 0.5 === 0 ? format(datum.value, '.1f') : ''"}},"detail":{"field":"s"}}},
  {"transform":[{"filter":"datum.p==9"}],"mark":{"type":"point","clip":true},"encoding":{"x":{"field":"x","type":"quantitative"},"y":{"field":"y","type":"quantitative"},"shape":{"field":"s","type":"nominal"},"fill":{"field":"s","type":"nominal"}}},
  {"transform":[{"filter":"datum.p==9"},{"aggregate":[{"op":"count","as":"n"}]}],"mark":{"type":"rect","fill":"white"},"encoding":{"x":{"datum":0.25},"x2":{"datum":16.2},"y":{"datum":1.56},"y2":{"datum":1.98}}},
  {"transform":[{"filter":"datum.p==9"},{"aggregate":[{"op":"count","as":"n"}]}],"mark":"text","encoding":{"x":{"datum":0.9},"y":{"datum":1.97},"text":{"value":["F0 = 3.64 Bark","F1 = 3 Bark","Nf = 9"]}}}
 ]},
{"width":355,"height":333,"layer":[
  {"transform":[{"filter":"datum.p==10"}],"mark":{"type":"line","clip":true},"encoding":{"x":{"field":"x","type":"quantitative","scale":{"domain":[0,40]},"axis":{"values":[0,10,20,30,40]}},"y":{"field":"y","type":"quantitative","scale":{"domain":[0,2]},"axis":{"values":[0,0.25,0.5,0.75,1,1.25,1.5,1.75,2],"labelExpr":"datum.value % 0.5 === 0 ? format(datum.value, '.1f') : ''"}},"detail":{"field":"s"}}},
  {"transform":[{"filter":"datum.p==10"}],"mark":{"type":"point","clip":true},"encoding":{"x":{"field":"x","type":"quantitative"},"y":{"field":"y","type":"quantitative"},"shape":{"field":"s","type":"nominal"},"fill":{"field":"s","type":"nominal"}}},
  {"transform":[{"filter":"datum.p==10"},{"aggregate":[{"op":"count","as":"n"}]}],"mark":{"type":"rect","fill":"white"},"encoding":{"x":{"datum":0.25},"x2":{"datum":16.2},"y":{"datum":1.56},"y2":{"datum":1.98}}},
  {"transform":[{"filter":"datum.p==10"},{"aggregate":[{"op":"count","as":"n"}]}],"mark":"text","encoding":{"x":{"datum":0.9},"y":{"datum":1.97},"text":{"value":["F0 = 4.00 Bark","F1 = 3 Bark","Nf = 9"]}}}
 ]},
{"width":355,"height":333,"layer":[
  {"transform":[{"filter":"datum.p==11"}],"mark":{"type":"line","clip":true},"encoding":{"x":{"field":"x","type":"quantitative","scale":{"domain":[0,40]},"axis":{"values":[0,10,20,30,40]}},"y":{"field":"y","type":"quantitative","scale":{"domain":[0,2]},"axis":{"values":[0,0.25,0.5,0.75,1,1.25,1.5,1.75,2],"labelExpr":"datum.value % 0.5 === 0 ? format(datum.value, '.1f') : ''"}},"detail":{"field":"s"}}},
  {"transform":[{"filter":"datum.p==11"}],"mark":{"type":"point","clip":true},"encoding":{"x":{"field":"x","type":"quantitative"},"y":{"field":"y","type":"quantitative"},"shape":{"field":"s","type":"nominal"},"fill":{"field":"s","type":"nominal"}}},
  {"transform":[{"filter":"datum.p==11"},{"aggregate":[{"op":"count","as":"n"}]}],"mark":{"type":"rect","fill":"white"},"encoding":{"x":{"datum":0.25},"x2":{"datum":16},"y":{"datum":1.57},"y2":{"datum":1.98}}},
  {"transform":[{"filter":"datum.p==11"},{"aggregate":[{"op":"count","as":"n"}]}],"mark":"text","encoding":{"x":{"datum":0.9},"y":{"datum":1.97},"text":{"value":["F0 = 4.08 Bark","F1 = 3 Bark","Nf = 9"]}}}
 ]},
{"width":355,"height":333,"view":{"stroke":null},"transform":[{"aggregate":[{"op":"count","as":"n"}]}],
 "layer":[
  {"mark":{"type":"rect","fill":"transparent","stroke":"black","strokeWidth":3.5},"encoding":{"x":{"datum":0.19,"type":"quantitative","scale":{"domain":[0,1]},"axis":null},"x2":{"datum":0.94},"y":{"datum":0.0,"type":"quantitative","scale":{"domain":[0,1]},"axis":null},"y2":{"datum":0.883}}},
  {"mark":{"type":"rule","strokeWidth":3,"color":"black"},"encoding":{"x":{"datum":0.19},"x2":{"datum":0.94},"y":{"datum":0.637}}},
  {"mark":{"type":"text","font":"DejaVu Sans","fontStyle":"italic","fontWeight":"normal","fontSize":56,"fill":"white","stroke":"black","strokeWidth":1.6,"align":"center","baseline":"middle"},"encoding":{"x":{"datum":0.566},"y":{"datum":0.765},"text":{"value":"Pole"}}},
  {"mark":{"type":"text","font":"DejaVu Sans","fontStyle":"italic","fontWeight":"bold","fontSize":32,"align":"center","baseline":"middle"},"encoding":{"x":{"datum":0.566},"y":{"datum":0.54},"text":{"value":"F1 = 3 Bark"}}},
  {"mark":{"type":"text","font":"DejaVu Sans","fontStyle":"italic","fontWeight":"bold","fontSize":32,"align":"center","baseline":"middle"},"encoding":{"x":{"datum":0.566},"y":{"datum":0.40},"text":{"value":"Nf = 9"}}},
  {"mark":{"type":"text","font":"DejaVu Sans","fontStyle":"italic","fontWeight":"bold","fontSize":32,"align":"center","baseline":"middle"},"encoding":{"x":{"datum":0.566},"y":{"datum":0.28},"text":{"value":"Wl = 30ms"}}}
 ]}
],
"config":{
 "view":{"stroke":"black","strokeWidth":2},
 "legend":{"disable":true},
 "axis":{"labelFont":"Liberation Sans","labelFontWeight":"bold","labelFontSize":14,"labelColor":"black","domain":false,"title":null,"tickColor":"black","gridColor":"#111111","gridWidth":1.3,"gridDash":[5,1.5],"labelFlush":false},
 "axisX":{"grid":false,"ticks":false,"labelPadding":4},
 "axisY":{"grid":true,"ticks":true,"tickSize":4,"labelPadding":2},
 "line":{"color":"black","strokeWidth":1.6},
 "point":{"filled":true,"stroke":"black","strokeWidth":1.2,"size":42,"opacity":1},
 "text":{"font":"Liberation Sans Narrow, DejaVu Sans Condensed, Liberation Sans","fontSize":16.5,"fontStyle":"italic","fontWeight":"bold","align":"left","baseline":"top","lineHeight":22,"color":"black"}
}
}
